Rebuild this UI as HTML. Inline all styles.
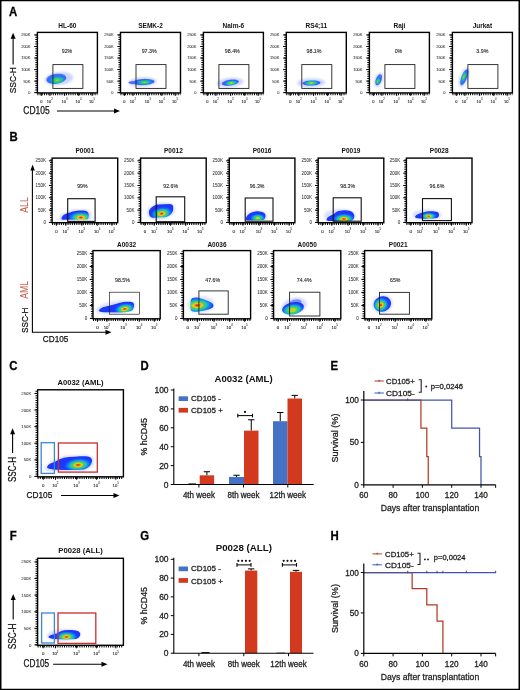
<!DOCTYPE html><html><head><meta charset="utf-8"><title>Figure</title><style>html,body{margin:0;padding:0;background:#fff;width:520px;height:690px;overflow:hidden;}text{font-family:"Liberation Sans", sans-serif;}</style></head><body><svg width="520" height="690" viewBox="0 0 520 690" style="display:block;font-family:'Liberation Sans', sans-serif"><defs><filter id="ident" filterUnits="userSpaceOnUse" x="0" y="0" width="520" height="690"><feOffset dx="0" dy="0"/></filter><filter id="bl" x="-30%" y="-30%" width="160%" height="160%"><feGaussianBlur stdDeviation="0.45"/></filter><filter id="bl2" x="-50%" y="-50%" width="200%" height="200%"><feGaussianBlur stdDeviation="1.2"/></filter><radialGradient id="u1" gradientUnits="userSpaceOnUse" cx="0" cy="0" r="1" gradientTransform="translate(57.4 80.2) rotate(-5) scale(10.5 5.5)"><stop offset="0.0" stop-color="#a8e028"/><stop offset="0.2" stop-color="#50d040"/><stop offset="0.42" stop-color="#20c0a0"/><stop offset="0.6" stop-color="#1a98e0"/><stop offset="0.8" stop-color="#2a68ff"/><stop offset="1.0" stop-color="#4a70ff"/></radialGradient><radialGradient id="u2" gradientUnits="userSpaceOnUse" cx="0" cy="0" r="1" gradientTransform="translate(144.5 82.3) rotate(-3) scale(10.0 3.2)"><stop offset="0.0" stop-color="#a8e028"/><stop offset="0.2" stop-color="#50d040"/><stop offset="0.42" stop-color="#20c0a0"/><stop offset="0.6" stop-color="#1a98e0"/><stop offset="0.8" stop-color="#2a68ff"/><stop offset="1.0" stop-color="#4a70ff"/></radialGradient><radialGradient id="u3" gradientUnits="userSpaceOnUse" cx="0" cy="0" r="1" gradientTransform="translate(231.2 83.0) rotate(-6) scale(8.0 3.0)"><stop offset="0.0" stop-color="#d8e020"/><stop offset="0.15" stop-color="#a0e020"/><stop offset="0.32" stop-color="#48d048"/><stop offset="0.52" stop-color="#18c0c0"/><stop offset="0.74" stop-color="#1a80f0"/><stop offset="0.9" stop-color="#2a60ff"/><stop offset="1.0" stop-color="#4068ff"/></radialGradient><radialGradient id="u4" gradientUnits="userSpaceOnUse" cx="0" cy="0" r="1" gradientTransform="translate(311.3 83.0) rotate(-2) scale(8.8 2.9)"><stop offset="0.0" stop-color="#d8e020"/><stop offset="0.15" stop-color="#a0e020"/><stop offset="0.32" stop-color="#48d048"/><stop offset="0.52" stop-color="#18c0c0"/><stop offset="0.74" stop-color="#1a80f0"/><stop offset="0.9" stop-color="#2a60ff"/><stop offset="1.0" stop-color="#4068ff"/></radialGradient><radialGradient id="u5" gradientUnits="userSpaceOnUse" cx="0" cy="0" r="1" gradientTransform="translate(377.9 81.2) rotate(-69) scale(5.2 3.0)"><stop offset="0.0" stop-color="#a8e028"/><stop offset="0.2" stop-color="#50d040"/><stop offset="0.42" stop-color="#20c0a0"/><stop offset="0.6" stop-color="#1a98e0"/><stop offset="0.8" stop-color="#2a68ff"/><stop offset="1.0" stop-color="#4a70ff"/></radialGradient><radialGradient id="u6" gradientUnits="userSpaceOnUse" cx="0" cy="0" r="1" gradientTransform="translate(463.8 76.8) rotate(-69) scale(8.0 3.0)"><stop offset="0.0" stop-color="#a8e028"/><stop offset="0.2" stop-color="#50d040"/><stop offset="0.42" stop-color="#20c0a0"/><stop offset="0.6" stop-color="#1a98e0"/><stop offset="0.8" stop-color="#2a68ff"/><stop offset="1.0" stop-color="#4a70ff"/></radialGradient><clipPath id="c7"><rect x="40" y="150" width="480" height="70.8"/></clipPath><radialGradient id="u8" gradientUnits="userSpaceOnUse" cx="0" cy="0" r="1" gradientTransform="translate(80.9 217.5) rotate(0) scale(13.0 6.2)"><stop offset="0.0" stop-color="#d81a10"/><stop offset="0.12" stop-color="#f06818"/><stop offset="0.24" stop-color="#f0d020"/><stop offset="0.38" stop-color="#60d040"/><stop offset="0.55" stop-color="#18c0c8"/><stop offset="0.74" stop-color="#1478f0"/><stop offset="0.9" stop-color="#1848ff"/><stop offset="1.0" stop-color="#1a38f8"/></radialGradient><radialGradient id="u9" gradientUnits="userSpaceOnUse" cx="0" cy="0" r="1" gradientTransform="translate(161.7 213.6) rotate(-10) scale(11.5 6.8)"><stop offset="0.0" stop-color="#d81a10"/><stop offset="0.12" stop-color="#f06818"/><stop offset="0.24" stop-color="#f0d020"/><stop offset="0.38" stop-color="#60d040"/><stop offset="0.55" stop-color="#18c0c8"/><stop offset="0.74" stop-color="#1478f0"/><stop offset="0.9" stop-color="#1848ff"/><stop offset="1.0" stop-color="#1a38f8"/></radialGradient><radialGradient id="u10" gradientUnits="userSpaceOnUse" cx="0" cy="0" r="1" gradientTransform="translate(257.8 218.0) rotate(0) scale(8.0 4.4)"><stop offset="0.0" stop-color="#e8e020"/><stop offset="0.15" stop-color="#b0e020"/><stop offset="0.32" stop-color="#48d048"/><stop offset="0.52" stop-color="#18c0c0"/><stop offset="0.74" stop-color="#1478f0"/><stop offset="0.9" stop-color="#1848ff"/><stop offset="1.0" stop-color="#1a38f8"/></radialGradient><radialGradient id="u11" gradientUnits="userSpaceOnUse" cx="0" cy="0" r="1" gradientTransform="translate(343.9 219.0) rotate(0) scale(11.5 5.8)"><stop offset="0.0" stop-color="#d81a10"/><stop offset="0.12" stop-color="#f06818"/><stop offset="0.24" stop-color="#f0d020"/><stop offset="0.38" stop-color="#60d040"/><stop offset="0.55" stop-color="#18c0c8"/><stop offset="0.74" stop-color="#1478f0"/><stop offset="0.9" stop-color="#1848ff"/><stop offset="1.0" stop-color="#1a38f8"/></radialGradient><radialGradient id="u12" gradientUnits="userSpaceOnUse" cx="0" cy="0" r="1" gradientTransform="translate(428.7 216.2) rotate(0) scale(8.5 4.0)"><stop offset="0.0" stop-color="#d81a10"/><stop offset="0.12" stop-color="#f06818"/><stop offset="0.24" stop-color="#f0d020"/><stop offset="0.38" stop-color="#60d040"/><stop offset="0.55" stop-color="#18c0c8"/><stop offset="0.74" stop-color="#1478f0"/><stop offset="0.9" stop-color="#1848ff"/><stop offset="1.0" stop-color="#1a38f8"/></radialGradient><radialGradient id="u13" gradientUnits="userSpaceOnUse" cx="0" cy="0" r="1" gradientTransform="translate(124.8 309.0) rotate(-10) scale(11.0 6.0)"><stop offset="0.0" stop-color="#d81a10"/><stop offset="0.12" stop-color="#f06818"/><stop offset="0.24" stop-color="#f0d020"/><stop offset="0.38" stop-color="#60d040"/><stop offset="0.55" stop-color="#18c0c8"/><stop offset="0.74" stop-color="#1478f0"/><stop offset="0.9" stop-color="#1848ff"/><stop offset="1.0" stop-color="#1a38f8"/></radialGradient><radialGradient id="u14" gradientUnits="userSpaceOnUse" cx="0" cy="0" r="1" gradientTransform="translate(197.5 305.3) rotate(-3) scale(17.0 8.5)"><stop offset="0.0" stop-color="#d81a10"/><stop offset="0.12" stop-color="#f06818"/><stop offset="0.24" stop-color="#f0d020"/><stop offset="0.38" stop-color="#60d040"/><stop offset="0.55" stop-color="#18c0c8"/><stop offset="0.74" stop-color="#1478f0"/><stop offset="0.9" stop-color="#1848ff"/><stop offset="1.0" stop-color="#1a38f8"/></radialGradient><radialGradient id="u15" gradientUnits="userSpaceOnUse" cx="0" cy="0" r="1" gradientTransform="translate(292.6 310.0) rotate(-10) scale(11.5 6.5)"><stop offset="0.0" stop-color="#f07820"/><stop offset="0.1" stop-color="#f0c020"/><stop offset="0.25" stop-color="#a0e020"/><stop offset="0.42" stop-color="#40d050"/><stop offset="0.6" stop-color="#18c0c8"/><stop offset="0.78" stop-color="#1478f0"/><stop offset="0.92" stop-color="#1848ff"/><stop offset="1.0" stop-color="#1a38f8"/></radialGradient><radialGradient id="u16" gradientUnits="userSpaceOnUse" cx="0" cy="0" r="1" gradientTransform="translate(380.7 305.0) rotate(-20) scale(9.0 8.0)"><stop offset="0.0" stop-color="#d81a10"/><stop offset="0.12" stop-color="#f06818"/><stop offset="0.24" stop-color="#f0d020"/><stop offset="0.38" stop-color="#60d040"/><stop offset="0.55" stop-color="#18c0c8"/><stop offset="0.74" stop-color="#1478f0"/><stop offset="0.9" stop-color="#1848ff"/><stop offset="1.0" stop-color="#1a38f8"/></radialGradient><radialGradient id="u17" gradientUnits="userSpaceOnUse" cx="0" cy="0" r="1" gradientTransform="translate(78.1 465.0) rotate(-5) scale(14.5 7.0)"><stop offset="0.0" stop-color="#d81a10"/><stop offset="0.12" stop-color="#f06818"/><stop offset="0.24" stop-color="#f0d020"/><stop offset="0.38" stop-color="#60d040"/><stop offset="0.55" stop-color="#18c0c8"/><stop offset="0.74" stop-color="#1478f0"/><stop offset="0.9" stop-color="#1848ff"/><stop offset="1.0" stop-color="#1a38f8"/></radialGradient><radialGradient id="u18" gradientUnits="userSpaceOnUse" cx="0" cy="0" r="1" gradientTransform="translate(66.5 636.9) rotate(0) scale(11.5 5.8)"><stop offset="0.0" stop-color="#d81a10"/><stop offset="0.12" stop-color="#f06818"/><stop offset="0.24" stop-color="#f0d020"/><stop offset="0.38" stop-color="#60d040"/><stop offset="0.55" stop-color="#18c0c8"/><stop offset="0.74" stop-color="#1478f0"/><stop offset="0.9" stop-color="#1848ff"/><stop offset="1.0" stop-color="#1a38f8"/></radialGradient></defs><g filter="url(#ident)"><g transform="translate(8.90 16.00) scale(0.92 1)"><text x="0" y="0" font-size="12.4" font-weight="bold" fill="#000" stroke="#000" stroke-width="0.3">A</text></g>
<g><path d="M72.92,77.14 L72.86,78.17 L72.45,79.21 L71.71,80.23 L70.66,81.22 L69.33,82.14 L67.73,82.97 L65.93,83.70 L63.95,84.30 L61.85,84.76 L59.68,85.06 L57.49,85.21 L55.34,85.20 L53.28,85.02 L51.37,84.69 L49.64,84.21 L48.14,83.58 L46.90,82.84 L45.97,81.99 L45.35,81.06 L45.08,80.06 L45.14,79.03 L45.55,77.99 L46.29,76.97 L47.34,75.98 L48.67,75.06 L50.27,74.23 L52.07,73.50 L54.05,72.90 L56.15,72.44 L58.32,72.14 L60.51,71.99 L62.66,72.00 L64.72,72.18 L66.63,72.51 L68.36,72.99 L69.86,73.62 L71.10,74.36 L72.03,75.21 L72.65,76.14 Z" fill="#7080ff" opacity="0.35" filter="url(#bl2)"/><path d="M66.20,77.41 L66.19,78.20 L65.93,79.01 L65.44,79.81 L64.72,80.58 L63.79,81.32 L62.68,81.99 L61.42,82.58 L60.02,83.08 L58.54,83.47 L57.00,83.75 L55.44,83.91 L53.90,83.94 L52.42,83.84 L51.04,83.62 L49.79,83.29 L48.70,82.84 L47.79,82.29 L47.10,81.65 L46.63,80.95 L46.40,80.19 L46.41,79.40 L46.67,78.59 L47.16,77.79 L47.88,77.02 L48.81,76.28 L49.92,75.61 L51.18,75.02 L52.58,74.52 L54.06,74.13 L55.60,73.85 L57.16,73.69 L58.70,73.66 L60.18,73.76 L61.56,73.98 L62.81,74.31 L63.90,74.76 L64.81,75.31 L65.50,75.95 L65.97,76.65 Z" fill="url(#u1)" filter="url(#bl)"/></g>
<g><path d="M156.48,81.27 L156.35,81.99 L155.87,82.72 L155.07,83.43 L153.95,84.11 L152.56,84.73 L150.91,85.29 L149.06,85.76 L147.05,86.14 L144.92,86.42 L142.74,86.59 L140.55,86.65 L138.41,86.60 L136.37,86.43 L134.48,86.15 L132.78,85.77 L131.33,85.29 L130.15,84.74 L129.28,84.12 L128.73,83.44 L128.52,82.73 L128.65,82.01 L129.13,81.28 L129.93,80.57 L131.05,79.89 L132.44,79.27 L134.09,78.71 L135.94,78.24 L137.95,77.86 L140.08,77.58 L142.26,77.41 L144.45,77.35 L146.59,77.40 L148.63,77.57 L150.52,77.85 L152.22,78.23 L153.67,78.71 L154.85,79.26 L155.72,79.88 L156.27,80.56 Z" fill="#7080ff" opacity="0.35" filter="url(#bl2)"/><path d="M137.50,82.60 L137.44,82.82 L137.28,83.03 L137.01,83.24 L136.64,83.42 L136.18,83.59 L135.65,83.73 L135.04,83.85 L134.39,83.93 L133.70,83.98 L133.00,84.00 L132.30,83.98 L131.61,83.93 L130.96,83.85 L130.35,83.73 L129.82,83.59 L129.36,83.42 L128.99,83.24 L128.72,83.03 L128.56,82.82 L128.50,82.60 L128.56,82.38 L128.72,82.17 L128.99,81.96 L129.36,81.78 L129.82,81.61 L130.35,81.47 L130.96,81.35 L131.61,81.27 L132.30,81.22 L133.00,81.20 L133.70,81.22 L134.39,81.27 L135.04,81.35 L135.65,81.47 L136.18,81.61 L136.64,81.78 L137.01,81.96 L137.28,82.17 L137.44,82.38 Z" fill="#3048ff" opacity="0.8" filter="url(#bl)"/><path d="M154.48,81.42 L154.38,81.92 L154.00,82.41 L153.36,82.89 L152.48,83.35 L151.38,83.78 L150.09,84.17 L148.63,84.50 L147.05,84.77 L145.38,84.97 L143.66,85.10 L141.94,85.15 L140.26,85.12 L138.66,85.02 L137.17,84.84 L135.85,84.60 L134.71,84.29 L133.79,83.92 L133.10,83.50 L132.68,83.05 L132.52,82.58 L132.62,82.08 L133.00,81.59 L133.64,81.11 L134.52,80.65 L135.62,80.22 L136.91,79.83 L138.37,79.50 L139.95,79.23 L141.62,79.03 L143.34,78.90 L145.06,78.85 L146.74,78.88 L148.34,78.98 L149.83,79.16 L151.15,79.40 L152.29,79.71 L153.21,80.08 L153.90,80.50 L154.32,80.95 Z" fill="url(#u2)" filter="url(#bl)"/></g>
<g><path d="M243.45,81.32 L243.34,82.04 L242.91,82.77 L242.16,83.49 L241.11,84.18 L239.79,84.84 L238.22,85.44 L236.46,85.96 L234.53,86.40 L232.49,86.74 L230.39,86.98 L228.28,87.11 L226.22,87.13 L224.24,87.03 L222.41,86.82 L220.77,86.50 L219.35,86.09 L218.20,85.58 L217.33,85.00 L216.78,84.36 L216.55,83.68 L216.66,82.96 L217.09,82.23 L217.84,81.51 L218.89,80.82 L220.21,80.16 L221.78,79.56 L223.54,79.04 L225.47,78.60 L227.51,78.26 L229.61,78.02 L231.72,77.89 L233.78,77.87 L235.76,77.97 L237.59,78.18 L239.23,78.50 L240.65,78.91 L241.80,79.42 L242.67,80.00 L243.22,80.64 Z" fill="#7080ff" opacity="0.35" filter="url(#bl2)"/><path d="M238.82,81.40 L238.77,81.87 L238.52,82.35 L238.07,82.84 L237.43,83.32 L236.61,83.78 L235.63,84.22 L234.53,84.62 L233.32,84.96 L232.03,85.25 L230.70,85.47 L229.37,85.62 L228.05,85.70 L226.79,85.70 L225.62,85.63 L224.56,85.48 L223.65,85.26 L222.90,84.97 L222.33,84.63 L221.95,84.23 L221.78,83.80 L221.83,83.33 L222.08,82.85 L222.53,82.36 L223.17,81.88 L223.99,81.42 L224.97,80.98 L226.07,80.58 L227.28,80.24 L228.57,79.95 L229.90,79.73 L231.23,79.58 L232.55,79.50 L233.81,79.50 L234.98,79.57 L236.04,79.72 L236.95,79.94 L237.70,80.23 L238.27,80.57 L238.65,80.97 Z" fill="url(#u3)" filter="url(#bl)"/></g>
<g><path d="M324.99,82.31 L324.84,83.01 L324.35,83.69 L323.54,84.36 L322.41,84.99 L321.00,85.56 L319.35,86.07 L317.49,86.50 L315.47,86.83 L313.34,87.07 L311.15,87.20 L308.96,87.22 L306.82,87.13 L304.78,86.94 L302.90,86.64 L301.22,86.25 L299.77,85.78 L298.60,85.23 L297.74,84.62 L297.20,83.97 L297.01,83.29 L297.16,82.59 L297.65,81.91 L298.46,81.24 L299.59,80.61 L301.00,80.04 L302.65,79.53 L304.51,79.10 L306.53,78.77 L308.66,78.53 L310.85,78.40 L313.04,78.38 L315.18,78.47 L317.22,78.66 L319.10,78.96 L320.78,79.35 L322.23,79.82 L323.40,80.37 L324.26,80.98 L324.80,81.63 Z" fill="#7080ff" opacity="0.35" filter="url(#bl2)"/><path d="M320.49,82.69 L320.40,83.10 L320.08,83.50 L319.56,83.90 L318.83,84.27 L317.92,84.62 L316.86,84.92 L315.66,85.17 L314.37,85.37 L313.00,85.52 L311.59,85.60 L310.18,85.62 L308.81,85.57 L307.50,85.46 L306.29,85.29 L305.20,85.06 L304.28,84.78 L303.53,84.46 L302.97,84.10 L302.63,83.72 L302.51,83.31 L302.60,82.90 L302.92,82.50 L303.44,82.10 L304.17,81.73 L305.08,81.38 L306.14,81.08 L307.34,80.83 L308.63,80.63 L310.00,80.48 L311.41,80.40 L312.82,80.38 L314.19,80.43 L315.50,80.54 L316.71,80.71 L317.80,80.94 L318.72,81.22 L319.47,81.54 L320.03,81.90 L320.37,82.28 Z" fill="url(#u4)" filter="url(#bl)"/></g>
<g><path d="M381.39,72.80 L381.94,73.11 L382.41,73.58 L382.79,74.21 L383.07,74.98 L383.24,75.86 L383.30,76.84 L383.25,77.90 L383.08,79.00 L382.81,80.12 L382.43,81.23 L381.97,82.31 L381.42,83.33 L380.81,84.26 L380.14,85.08 L379.44,85.76 L378.72,86.31 L378.00,86.69 L377.30,86.90 L376.63,86.94 L376.01,86.80 L375.46,86.49 L374.99,86.02 L374.61,85.39 L374.33,84.62 L374.16,83.74 L374.10,82.76 L374.15,81.70 L374.32,80.60 L374.59,79.48 L374.97,78.37 L375.43,77.29 L375.98,76.27 L376.59,75.34 L377.26,74.52 L377.96,73.84 L378.68,73.29 L379.40,72.91 L380.10,72.70 L380.77,72.66 Z" fill="#7080ff" opacity="0.35" filter="url(#bl2)"/><path d="M380.78,74.39 L381.16,74.61 L381.48,74.96 L381.74,75.43 L381.92,76.01 L382.02,76.68 L382.04,77.43 L381.97,78.24 L381.83,79.08 L381.61,79.94 L381.31,80.80 L380.96,81.64 L380.54,82.43 L380.09,83.15 L379.59,83.79 L379.08,84.34 L378.55,84.77 L378.03,85.08 L377.53,85.26 L377.06,85.31 L376.62,85.21 L376.24,84.99 L375.92,84.64 L375.66,84.17 L375.48,83.59 L375.38,82.92 L375.36,82.17 L375.43,81.36 L375.57,80.52 L375.79,79.66 L376.09,78.80 L376.44,77.96 L376.86,77.17 L377.31,76.45 L377.81,75.81 L378.32,75.26 L378.85,74.83 L379.37,74.52 L379.87,74.34 L380.34,74.29 Z" fill="url(#u5)" filter="url(#bl)"/></g>
<g><path d="M467.58,68.16 L468.12,68.50 L468.56,69.06 L468.89,69.83 L469.09,70.79 L469.17,71.91 L469.13,73.17 L468.95,74.54 L468.66,75.98 L468.25,77.46 L467.73,78.93 L467.13,80.38 L466.44,81.75 L465.70,83.02 L464.91,84.15 L464.11,85.12 L463.30,85.90 L462.50,86.47 L461.75,86.82 L461.04,86.95 L460.42,86.84 L459.88,86.50 L459.44,85.94 L459.11,85.17 L458.91,84.21 L458.83,83.09 L458.87,81.83 L459.05,80.46 L459.34,79.02 L459.75,77.54 L460.27,76.07 L460.87,74.62 L461.56,73.25 L462.30,71.98 L463.09,70.85 L463.89,69.88 L464.70,69.10 L465.50,68.53 L466.25,68.18 L466.96,68.05 Z" fill="#7080ff" opacity="0.35" filter="url(#bl2)"/><path d="M467.35,69.36 L467.72,69.62 L468.00,70.06 L468.20,70.69 L468.30,71.47 L468.30,72.40 L468.21,73.45 L468.01,74.59 L467.73,75.80 L467.36,77.05 L466.91,78.30 L466.41,79.53 L465.84,80.71 L465.25,81.80 L464.62,82.78 L463.99,83.62 L463.37,84.31 L462.77,84.83 L462.21,85.16 L461.70,85.29 L461.25,85.24 L460.88,84.98 L460.60,84.54 L460.40,83.91 L460.30,83.13 L460.30,82.20 L460.39,81.15 L460.59,80.01 L460.87,78.80 L461.24,77.55 L461.69,76.30 L462.19,75.07 L462.76,73.89 L463.35,72.80 L463.98,71.82 L464.61,70.98 L465.23,70.29 L465.83,69.77 L466.39,69.44 L466.90,69.31 Z" fill="url(#u6)" filter="url(#bl)"/></g>
<line x1="34.20" y1="92.66" x2="37.40" y2="92.66" stroke="#000" stroke-width="1.0" />
<text x="30.50" y="94.10" font-size="4.0" text-anchor="end" fill="#333" stroke="#333" stroke-width="0.05">0</text>
<line x1="34.20" y1="81.11" x2="37.40" y2="81.11" stroke="#000" stroke-width="1.0" />
<text x="30.50" y="82.55" font-size="4.0" text-anchor="end" fill="#333" stroke="#333" stroke-width="0.05">50K</text>
<line x1="34.20" y1="69.57" x2="37.40" y2="69.57" stroke="#000" stroke-width="1.0" />
<text x="30.50" y="71.01" font-size="4.0" text-anchor="end" fill="#333" stroke="#333" stroke-width="0.05">100K</text>
<line x1="34.20" y1="58.02" x2="37.40" y2="58.02" stroke="#000" stroke-width="1.0" />
<text x="30.50" y="59.46" font-size="4.0" text-anchor="end" fill="#333" stroke="#333" stroke-width="0.05">150K</text>
<line x1="34.20" y1="46.47" x2="37.40" y2="46.47" stroke="#000" stroke-width="1.0" />
<text x="30.50" y="47.91" font-size="4.0" text-anchor="end" fill="#333" stroke="#333" stroke-width="0.05">200K</text>
<line x1="34.20" y1="34.93" x2="37.40" y2="34.93" stroke="#000" stroke-width="1.0" />
<text x="30.50" y="36.37" font-size="4.0" text-anchor="end" fill="#333" stroke="#333" stroke-width="0.05">250K</text>
<line x1="36.30" y1="92.90" x2="36.30" y2="33.40" stroke="#000" stroke-width="2.0" stroke-dasharray="1.0 1.3"/>
<line x1="41.36" y1="92.90" x2="41.36" y2="95.90" stroke="#000" stroke-width="1.0" />
<text x="41.36" y="102.70" font-size="4.0" text-anchor="middle" fill="#222" stroke="#222" stroke-width="0.1">0</text>
<line x1="49.88" y1="92.90" x2="49.88" y2="95.90" stroke="#000" stroke-width="1.0" />
<text x="48.98" y="102.70" font-size="4.0" text-anchor="middle" fill="#222" stroke="#222" stroke-width="0.1">10</text>
<text x="51.28" y="100.10" font-size="2.8" text-anchor="start" fill="#000" >2</text>
<line x1="64.70" y1="92.90" x2="64.70" y2="95.90" stroke="#000" stroke-width="1.0" />
<text x="63.80" y="102.70" font-size="4.0" text-anchor="middle" fill="#222" stroke="#222" stroke-width="0.1">10</text>
<text x="66.10" y="100.10" font-size="2.8" text-anchor="start" fill="#000" >3</text>
<line x1="78.68" y1="92.90" x2="78.68" y2="95.90" stroke="#000" stroke-width="1.0" />
<text x="77.78" y="102.70" font-size="4.0" text-anchor="middle" fill="#222" stroke="#222" stroke-width="0.1">10</text>
<text x="80.08" y="100.10" font-size="2.8" text-anchor="start" fill="#000" >4</text>
<line x1="92.12" y1="92.90" x2="92.12" y2="95.90" stroke="#000" stroke-width="1.0" />
<text x="91.22" y="102.70" font-size="4.0" text-anchor="middle" fill="#222" stroke="#222" stroke-width="0.1">10</text>
<text x="93.52" y="100.10" font-size="2.8" text-anchor="start" fill="#000" >5</text>
<line x1="37.40" y1="94.10" x2="97.40" y2="94.10" stroke="#000" stroke-width="2.2" stroke-dasharray="1.0 1.2"/>
<rect x="37.40" y="32.40" width="60.00" height="60.50" fill="none" stroke="#000" stroke-width="1.4" />
<text x="67.40" y="27.90" font-size="6.5" text-anchor="middle" fill="#111" font-weight="bold" >HL-60</text>
<text x="67.00" y="53.40" font-size="5.3" text-anchor="middle" fill="#222" stroke="#222" stroke-width="0.1">92%</text>
<rect x="52.90" y="64.60" width="30.00" height="23.80" fill="none" stroke="#222" stroke-width="0.9" />
<line x1="117.30" y1="92.66" x2="120.50" y2="92.66" stroke="#000" stroke-width="1.0" />
<text x="113.60" y="94.10" font-size="4.0" text-anchor="end" fill="#333" stroke="#333" stroke-width="0.05">0</text>
<line x1="117.30" y1="81.11" x2="120.50" y2="81.11" stroke="#000" stroke-width="1.0" />
<text x="113.60" y="82.55" font-size="4.0" text-anchor="end" fill="#333" stroke="#333" stroke-width="0.05">50K</text>
<line x1="117.30" y1="69.57" x2="120.50" y2="69.57" stroke="#000" stroke-width="1.0" />
<text x="113.60" y="71.01" font-size="4.0" text-anchor="end" fill="#333" stroke="#333" stroke-width="0.05">100K</text>
<line x1="117.30" y1="58.02" x2="120.50" y2="58.02" stroke="#000" stroke-width="1.0" />
<text x="113.60" y="59.46" font-size="4.0" text-anchor="end" fill="#333" stroke="#333" stroke-width="0.05">150K</text>
<line x1="117.30" y1="46.47" x2="120.50" y2="46.47" stroke="#000" stroke-width="1.0" />
<text x="113.60" y="47.91" font-size="4.0" text-anchor="end" fill="#333" stroke="#333" stroke-width="0.05">200K</text>
<line x1="117.30" y1="34.93" x2="120.50" y2="34.93" stroke="#000" stroke-width="1.0" />
<text x="113.60" y="36.37" font-size="4.0" text-anchor="end" fill="#333" stroke="#333" stroke-width="0.05">250K</text>
<line x1="119.40" y1="92.90" x2="119.40" y2="33.40" stroke="#000" stroke-width="2.0" stroke-dasharray="1.0 1.3"/>
<line x1="124.46" y1="92.90" x2="124.46" y2="95.90" stroke="#000" stroke-width="1.0" />
<text x="124.46" y="102.70" font-size="4.0" text-anchor="middle" fill="#222" stroke="#222" stroke-width="0.1">0</text>
<line x1="132.98" y1="92.90" x2="132.98" y2="95.90" stroke="#000" stroke-width="1.0" />
<text x="132.08" y="102.70" font-size="4.0" text-anchor="middle" fill="#222" stroke="#222" stroke-width="0.1">10</text>
<text x="134.38" y="100.10" font-size="2.8" text-anchor="start" fill="#000" >2</text>
<line x1="147.80" y1="92.90" x2="147.80" y2="95.90" stroke="#000" stroke-width="1.0" />
<text x="146.90" y="102.70" font-size="4.0" text-anchor="middle" fill="#222" stroke="#222" stroke-width="0.1">10</text>
<text x="149.20" y="100.10" font-size="2.8" text-anchor="start" fill="#000" >3</text>
<line x1="161.78" y1="92.90" x2="161.78" y2="95.90" stroke="#000" stroke-width="1.0" />
<text x="160.88" y="102.70" font-size="4.0" text-anchor="middle" fill="#222" stroke="#222" stroke-width="0.1">10</text>
<text x="163.18" y="100.10" font-size="2.8" text-anchor="start" fill="#000" >4</text>
<line x1="175.22" y1="92.90" x2="175.22" y2="95.90" stroke="#000" stroke-width="1.0" />
<text x="174.32" y="102.70" font-size="4.0" text-anchor="middle" fill="#222" stroke="#222" stroke-width="0.1">10</text>
<text x="176.62" y="100.10" font-size="2.8" text-anchor="start" fill="#000" >5</text>
<line x1="120.50" y1="94.10" x2="180.50" y2="94.10" stroke="#000" stroke-width="2.2" stroke-dasharray="1.0 1.2"/>
<rect x="120.50" y="32.40" width="60.00" height="60.50" fill="none" stroke="#000" stroke-width="1.4" />
<text x="150.50" y="27.90" font-size="6.5" text-anchor="middle" fill="#111" font-weight="bold" >SEMK-2</text>
<text x="149.20" y="53.40" font-size="5.3" text-anchor="middle" fill="#222" stroke="#222" stroke-width="0.1">97.3%</text>
<rect x="136.00" y="64.60" width="30.00" height="23.80" fill="none" stroke="#222" stroke-width="0.9" />
<line x1="200.20" y1="92.66" x2="203.40" y2="92.66" stroke="#000" stroke-width="1.0" />
<text x="196.50" y="94.10" font-size="4.0" text-anchor="end" fill="#333" stroke="#333" stroke-width="0.05">0</text>
<line x1="200.20" y1="81.11" x2="203.40" y2="81.11" stroke="#000" stroke-width="1.0" />
<text x="196.50" y="82.55" font-size="4.0" text-anchor="end" fill="#333" stroke="#333" stroke-width="0.05">50K</text>
<line x1="200.20" y1="69.57" x2="203.40" y2="69.57" stroke="#000" stroke-width="1.0" />
<text x="196.50" y="71.01" font-size="4.0" text-anchor="end" fill="#333" stroke="#333" stroke-width="0.05">100K</text>
<line x1="200.20" y1="58.02" x2="203.40" y2="58.02" stroke="#000" stroke-width="1.0" />
<text x="196.50" y="59.46" font-size="4.0" text-anchor="end" fill="#333" stroke="#333" stroke-width="0.05">150K</text>
<line x1="200.20" y1="46.47" x2="203.40" y2="46.47" stroke="#000" stroke-width="1.0" />
<text x="196.50" y="47.91" font-size="4.0" text-anchor="end" fill="#333" stroke="#333" stroke-width="0.05">200K</text>
<line x1="200.20" y1="34.93" x2="203.40" y2="34.93" stroke="#000" stroke-width="1.0" />
<text x="196.50" y="36.37" font-size="4.0" text-anchor="end" fill="#333" stroke="#333" stroke-width="0.05">250K</text>
<line x1="202.30" y1="92.90" x2="202.30" y2="33.40" stroke="#000" stroke-width="2.0" stroke-dasharray="1.0 1.3"/>
<line x1="207.36" y1="92.90" x2="207.36" y2="95.90" stroke="#000" stroke-width="1.0" />
<text x="207.36" y="102.70" font-size="4.0" text-anchor="middle" fill="#222" stroke="#222" stroke-width="0.1">0</text>
<line x1="215.88" y1="92.90" x2="215.88" y2="95.90" stroke="#000" stroke-width="1.0" />
<text x="214.98" y="102.70" font-size="4.0" text-anchor="middle" fill="#222" stroke="#222" stroke-width="0.1">10</text>
<text x="217.28" y="100.10" font-size="2.8" text-anchor="start" fill="#000" >2</text>
<line x1="230.70" y1="92.90" x2="230.70" y2="95.90" stroke="#000" stroke-width="1.0" />
<text x="229.80" y="102.70" font-size="4.0" text-anchor="middle" fill="#222" stroke="#222" stroke-width="0.1">10</text>
<text x="232.10" y="100.10" font-size="2.8" text-anchor="start" fill="#000" >3</text>
<line x1="244.68" y1="92.90" x2="244.68" y2="95.90" stroke="#000" stroke-width="1.0" />
<text x="243.78" y="102.70" font-size="4.0" text-anchor="middle" fill="#222" stroke="#222" stroke-width="0.1">10</text>
<text x="246.08" y="100.10" font-size="2.8" text-anchor="start" fill="#000" >4</text>
<line x1="258.12" y1="92.90" x2="258.12" y2="95.90" stroke="#000" stroke-width="1.0" />
<text x="257.22" y="102.70" font-size="4.0" text-anchor="middle" fill="#222" stroke="#222" stroke-width="0.1">10</text>
<text x="259.52" y="100.10" font-size="2.8" text-anchor="start" fill="#000" >5</text>
<line x1="203.40" y1="94.10" x2="263.40" y2="94.10" stroke="#000" stroke-width="2.2" stroke-dasharray="1.0 1.2"/>
<rect x="203.40" y="32.40" width="60.00" height="60.50" fill="none" stroke="#000" stroke-width="1.4" />
<text x="233.40" y="27.90" font-size="6.5" text-anchor="middle" fill="#111" font-weight="bold" >Nalm-6</text>
<text x="232.30" y="53.40" font-size="5.3" text-anchor="middle" fill="#222" stroke="#222" stroke-width="0.1">98.4%</text>
<rect x="218.90" y="64.60" width="30.00" height="23.80" fill="none" stroke="#222" stroke-width="0.9" />
<line x1="283.10" y1="92.66" x2="286.30" y2="92.66" stroke="#000" stroke-width="1.0" />
<text x="279.40" y="94.10" font-size="4.0" text-anchor="end" fill="#333" stroke="#333" stroke-width="0.05">0</text>
<line x1="283.10" y1="81.11" x2="286.30" y2="81.11" stroke="#000" stroke-width="1.0" />
<text x="279.40" y="82.55" font-size="4.0" text-anchor="end" fill="#333" stroke="#333" stroke-width="0.05">50K</text>
<line x1="283.10" y1="69.57" x2="286.30" y2="69.57" stroke="#000" stroke-width="1.0" />
<text x="279.40" y="71.01" font-size="4.0" text-anchor="end" fill="#333" stroke="#333" stroke-width="0.05">100K</text>
<line x1="283.10" y1="58.02" x2="286.30" y2="58.02" stroke="#000" stroke-width="1.0" />
<text x="279.40" y="59.46" font-size="4.0" text-anchor="end" fill="#333" stroke="#333" stroke-width="0.05">150K</text>
<line x1="283.10" y1="46.47" x2="286.30" y2="46.47" stroke="#000" stroke-width="1.0" />
<text x="279.40" y="47.91" font-size="4.0" text-anchor="end" fill="#333" stroke="#333" stroke-width="0.05">200K</text>
<line x1="283.10" y1="34.93" x2="286.30" y2="34.93" stroke="#000" stroke-width="1.0" />
<text x="279.40" y="36.37" font-size="4.0" text-anchor="end" fill="#333" stroke="#333" stroke-width="0.05">250K</text>
<line x1="285.20" y1="92.90" x2="285.20" y2="33.40" stroke="#000" stroke-width="2.0" stroke-dasharray="1.0 1.3"/>
<line x1="290.26" y1="92.90" x2="290.26" y2="95.90" stroke="#000" stroke-width="1.0" />
<text x="290.26" y="102.70" font-size="4.0" text-anchor="middle" fill="#222" stroke="#222" stroke-width="0.1">0</text>
<line x1="298.78" y1="92.90" x2="298.78" y2="95.90" stroke="#000" stroke-width="1.0" />
<text x="297.88" y="102.70" font-size="4.0" text-anchor="middle" fill="#222" stroke="#222" stroke-width="0.1">10</text>
<text x="300.18" y="100.10" font-size="2.8" text-anchor="start" fill="#000" >2</text>
<line x1="313.60" y1="92.90" x2="313.60" y2="95.90" stroke="#000" stroke-width="1.0" />
<text x="312.70" y="102.70" font-size="4.0" text-anchor="middle" fill="#222" stroke="#222" stroke-width="0.1">10</text>
<text x="315.00" y="100.10" font-size="2.8" text-anchor="start" fill="#000" >3</text>
<line x1="327.58" y1="92.90" x2="327.58" y2="95.90" stroke="#000" stroke-width="1.0" />
<text x="326.68" y="102.70" font-size="4.0" text-anchor="middle" fill="#222" stroke="#222" stroke-width="0.1">10</text>
<text x="328.98" y="100.10" font-size="2.8" text-anchor="start" fill="#000" >4</text>
<line x1="341.02" y1="92.90" x2="341.02" y2="95.90" stroke="#000" stroke-width="1.0" />
<text x="340.12" y="102.70" font-size="4.0" text-anchor="middle" fill="#222" stroke="#222" stroke-width="0.1">10</text>
<text x="342.42" y="100.10" font-size="2.8" text-anchor="start" fill="#000" >5</text>
<line x1="286.30" y1="94.10" x2="346.30" y2="94.10" stroke="#000" stroke-width="2.2" stroke-dasharray="1.0 1.2"/>
<rect x="286.30" y="32.40" width="60.00" height="60.50" fill="none" stroke="#000" stroke-width="1.4" />
<text x="316.30" y="27.90" font-size="6.5" text-anchor="middle" fill="#111" font-weight="bold" >RS4;11</text>
<text x="314.00" y="53.40" font-size="5.3" text-anchor="middle" fill="#222" stroke="#222" stroke-width="0.1">98.1%</text>
<rect x="301.80" y="64.60" width="30.00" height="23.80" fill="none" stroke="#222" stroke-width="0.9" />
<line x1="366.20" y1="92.66" x2="369.40" y2="92.66" stroke="#000" stroke-width="1.0" />
<text x="362.50" y="94.10" font-size="4.0" text-anchor="end" fill="#333" stroke="#333" stroke-width="0.05">0</text>
<line x1="366.20" y1="81.11" x2="369.40" y2="81.11" stroke="#000" stroke-width="1.0" />
<text x="362.50" y="82.55" font-size="4.0" text-anchor="end" fill="#333" stroke="#333" stroke-width="0.05">50K</text>
<line x1="366.20" y1="69.57" x2="369.40" y2="69.57" stroke="#000" stroke-width="1.0" />
<text x="362.50" y="71.01" font-size="4.0" text-anchor="end" fill="#333" stroke="#333" stroke-width="0.05">100K</text>
<line x1="366.20" y1="58.02" x2="369.40" y2="58.02" stroke="#000" stroke-width="1.0" />
<text x="362.50" y="59.46" font-size="4.0" text-anchor="end" fill="#333" stroke="#333" stroke-width="0.05">150K</text>
<line x1="366.20" y1="46.47" x2="369.40" y2="46.47" stroke="#000" stroke-width="1.0" />
<text x="362.50" y="47.91" font-size="4.0" text-anchor="end" fill="#333" stroke="#333" stroke-width="0.05">200K</text>
<line x1="366.20" y1="34.93" x2="369.40" y2="34.93" stroke="#000" stroke-width="1.0" />
<text x="362.50" y="36.37" font-size="4.0" text-anchor="end" fill="#333" stroke="#333" stroke-width="0.05">250K</text>
<line x1="368.30" y1="92.90" x2="368.30" y2="33.40" stroke="#000" stroke-width="2.0" stroke-dasharray="1.0 1.3"/>
<line x1="373.36" y1="92.90" x2="373.36" y2="95.90" stroke="#000" stroke-width="1.0" />
<text x="373.36" y="102.70" font-size="4.0" text-anchor="middle" fill="#222" stroke="#222" stroke-width="0.1">0</text>
<line x1="381.88" y1="92.90" x2="381.88" y2="95.90" stroke="#000" stroke-width="1.0" />
<text x="380.98" y="102.70" font-size="4.0" text-anchor="middle" fill="#222" stroke="#222" stroke-width="0.1">10</text>
<text x="383.28" y="100.10" font-size="2.8" text-anchor="start" fill="#000" >2</text>
<line x1="396.70" y1="92.90" x2="396.70" y2="95.90" stroke="#000" stroke-width="1.0" />
<text x="395.80" y="102.70" font-size="4.0" text-anchor="middle" fill="#222" stroke="#222" stroke-width="0.1">10</text>
<text x="398.10" y="100.10" font-size="2.8" text-anchor="start" fill="#000" >3</text>
<line x1="410.68" y1="92.90" x2="410.68" y2="95.90" stroke="#000" stroke-width="1.0" />
<text x="409.78" y="102.70" font-size="4.0" text-anchor="middle" fill="#222" stroke="#222" stroke-width="0.1">10</text>
<text x="412.08" y="100.10" font-size="2.8" text-anchor="start" fill="#000" >4</text>
<line x1="424.12" y1="92.90" x2="424.12" y2="95.90" stroke="#000" stroke-width="1.0" />
<text x="423.22" y="102.70" font-size="4.0" text-anchor="middle" fill="#222" stroke="#222" stroke-width="0.1">10</text>
<text x="425.52" y="100.10" font-size="2.8" text-anchor="start" fill="#000" >5</text>
<line x1="369.40" y1="94.10" x2="429.40" y2="94.10" stroke="#000" stroke-width="2.2" stroke-dasharray="1.0 1.2"/>
<rect x="369.40" y="32.40" width="60.00" height="60.50" fill="none" stroke="#000" stroke-width="1.4" />
<text x="399.40" y="27.90" font-size="6.5" text-anchor="middle" fill="#111" font-weight="bold" >Raji</text>
<text x="398.50" y="53.40" font-size="5.3" text-anchor="middle" fill="#222" stroke="#222" stroke-width="0.1">0%</text>
<rect x="384.90" y="64.60" width="30.00" height="23.80" fill="none" stroke="#222" stroke-width="0.9" />
<line x1="449.20" y1="92.66" x2="452.40" y2="92.66" stroke="#000" stroke-width="1.0" />
<text x="445.50" y="94.10" font-size="4.0" text-anchor="end" fill="#333" stroke="#333" stroke-width="0.05">0</text>
<line x1="449.20" y1="81.11" x2="452.40" y2="81.11" stroke="#000" stroke-width="1.0" />
<text x="445.50" y="82.55" font-size="4.0" text-anchor="end" fill="#333" stroke="#333" stroke-width="0.05">50K</text>
<line x1="449.20" y1="69.57" x2="452.40" y2="69.57" stroke="#000" stroke-width="1.0" />
<text x="445.50" y="71.01" font-size="4.0" text-anchor="end" fill="#333" stroke="#333" stroke-width="0.05">100K</text>
<line x1="449.20" y1="58.02" x2="452.40" y2="58.02" stroke="#000" stroke-width="1.0" />
<text x="445.50" y="59.46" font-size="4.0" text-anchor="end" fill="#333" stroke="#333" stroke-width="0.05">150K</text>
<line x1="449.20" y1="46.47" x2="452.40" y2="46.47" stroke="#000" stroke-width="1.0" />
<text x="445.50" y="47.91" font-size="4.0" text-anchor="end" fill="#333" stroke="#333" stroke-width="0.05">200K</text>
<line x1="449.20" y1="34.93" x2="452.40" y2="34.93" stroke="#000" stroke-width="1.0" />
<text x="445.50" y="36.37" font-size="4.0" text-anchor="end" fill="#333" stroke="#333" stroke-width="0.05">250K</text>
<line x1="451.30" y1="92.90" x2="451.30" y2="33.40" stroke="#000" stroke-width="2.0" stroke-dasharray="1.0 1.3"/>
<line x1="456.36" y1="92.90" x2="456.36" y2="95.90" stroke="#000" stroke-width="1.0" />
<text x="456.36" y="102.70" font-size="4.0" text-anchor="middle" fill="#222" stroke="#222" stroke-width="0.1">0</text>
<line x1="464.88" y1="92.90" x2="464.88" y2="95.90" stroke="#000" stroke-width="1.0" />
<text x="463.98" y="102.70" font-size="4.0" text-anchor="middle" fill="#222" stroke="#222" stroke-width="0.1">10</text>
<text x="466.28" y="100.10" font-size="2.8" text-anchor="start" fill="#000" >2</text>
<line x1="479.70" y1="92.90" x2="479.70" y2="95.90" stroke="#000" stroke-width="1.0" />
<text x="478.80" y="102.70" font-size="4.0" text-anchor="middle" fill="#222" stroke="#222" stroke-width="0.1">10</text>
<text x="481.10" y="100.10" font-size="2.8" text-anchor="start" fill="#000" >3</text>
<line x1="493.68" y1="92.90" x2="493.68" y2="95.90" stroke="#000" stroke-width="1.0" />
<text x="492.78" y="102.70" font-size="4.0" text-anchor="middle" fill="#222" stroke="#222" stroke-width="0.1">10</text>
<text x="495.08" y="100.10" font-size="2.8" text-anchor="start" fill="#000" >4</text>
<line x1="507.12" y1="92.90" x2="507.12" y2="95.90" stroke="#000" stroke-width="1.0" />
<text x="506.22" y="102.70" font-size="4.0" text-anchor="middle" fill="#222" stroke="#222" stroke-width="0.1">10</text>
<text x="508.52" y="100.10" font-size="2.8" text-anchor="start" fill="#000" >5</text>
<line x1="452.40" y1="94.10" x2="512.40" y2="94.10" stroke="#000" stroke-width="2.2" stroke-dasharray="1.0 1.2"/>
<rect x="452.40" y="32.40" width="60.00" height="60.50" fill="none" stroke="#000" stroke-width="1.4" />
<text x="482.40" y="27.90" font-size="6.5" text-anchor="middle" fill="#111" font-weight="bold" >Jurkat</text>
<text x="482.40" y="53.40" font-size="5.3" text-anchor="middle" fill="#222" stroke="#222" stroke-width="0.1">3.9%</text>
<rect x="467.90" y="64.60" width="30.00" height="23.80" fill="none" stroke="#222" stroke-width="0.9" />
<line x1="13.10" y1="64.50" x2="13.10" y2="37.80" stroke="#000" stroke-width="1.1" />
<path d="M10.60,38.80 L13.10,32.80 L15.60,38.80 Z" fill="#000"/>
<text x="15.70" y="93.20" font-size="9.8" text-anchor="start" fill="#111" textLength="26" lengthAdjust="spacingAndGlyphs" transform="rotate(-90 15.70 93.20)" stroke="#111" stroke-width="0.25">SSC-H</text>
<text x="23.30" y="113.80" font-size="10.2" text-anchor="start" fill="#111" textLength="26.3" lengthAdjust="spacingAndGlyphs" stroke="#111" stroke-width="0.25">CD105</text>
<line x1="57.00" y1="111.00" x2="115.00" y2="111.00" stroke="#000" stroke-width="1.1" />
<path d="M114.00,108.50 L120.00,111.00 L114.00,113.50 Z" fill="#000"/>
<g transform="translate(9.40 141.00) scale(0.92 1)"><text x="0" y="0" font-size="12.4" font-weight="bold" fill="#000" stroke="#000" stroke-width="0.3">B</text></g>
<g><path d="M58,219 L62,214 L72,210 L86,209.5 L91,212 L91,220 L60,220.5 Z" fill="#7080ff" opacity="0.3" filter="url(#bl2)"/><path d="M61.5,218.5 C62,215 66,213.5 70,212.5 C75,210.5 82,210 86,211 C89.5,212 89.5,218 87.5,219.6 L64,219.8 C62,219.8 61.5,219.5 61.5,218.5 Z" fill="url(#u8)" filter="url(#bl)"/></g>
<g><path d="M175.18,207.99 L175.28,209.32 L175.04,210.70 L174.44,212.09 L173.51,213.45 L172.28,214.75 L170.77,215.95 L169.01,217.04 L167.06,217.98 L164.96,218.74 L162.77,219.31 L160.53,219.68 L158.30,219.84 L156.14,219.78 L154.09,219.50 L152.22,219.01 L150.56,218.33 L149.17,217.46 L148.06,216.44 L147.27,215.28 L146.82,214.01 L146.72,212.68 L146.96,211.30 L147.56,209.91 L148.49,208.55 L149.72,207.25 L151.23,206.05 L152.99,204.96 L154.94,204.02 L157.04,203.26 L159.23,202.69 L161.47,202.32 L163.70,202.16 L165.86,202.22 L167.91,202.50 L169.78,202.99 L171.44,203.67 L172.83,204.54 L173.94,205.56 L174.73,206.72 Z" fill="#7080ff" opacity="0.25" filter="url(#bl2)"/><path d="M149,213 C148.5,209 152,206.5 157,204.5 L170,204 C173,204.2 173.5,206 173.2,209 C173,213 170,216 165,217.3 L154,217.8 C150.5,217.8 149.2,216 149,213 Z" fill="url(#u9)" filter="url(#bl)"/></g>
<g><path d="M268.00,216.50 L267.85,217.52 L267.41,218.51 L266.69,219.45 L265.71,220.32 L264.49,221.10 L263.05,221.76 L261.45,222.29 L259.71,222.68 L257.88,222.92 L256.00,223.00 L254.12,222.92 L252.29,222.68 L250.55,222.29 L248.95,221.76 L247.51,221.10 L246.29,220.32 L245.31,219.45 L244.59,218.51 L244.15,217.52 L244.00,216.50 L244.15,215.48 L244.59,214.49 L245.31,213.55 L246.29,212.68 L247.51,211.90 L248.95,211.24 L250.55,210.71 L252.29,210.32 L254.12,210.08 L256.00,210.00 L257.88,210.08 L259.71,210.32 L261.45,210.71 L263.05,211.24 L264.49,211.90 L265.71,212.68 L266.69,213.55 L267.41,214.49 L267.85,215.48 Z" fill="#7080ff" opacity="0.2" filter="url(#bl2)"/><path d="M245.8,219 C246,215 250,212.5 255,211.4 C259,210.8 263.5,211.5 265.2,214 C266,216.5 265,219.5 263,220 L247.5,220.2 C246,220.2 245.8,219.8 245.8,219 Z" fill="url(#u10)" filter="url(#bl)"/></g>
<g><path d="M356.00,216.00 L355.80,217.10 L355.22,218.16 L354.26,219.18 L352.94,220.11 L351.31,220.95 L349.40,221.66 L347.26,222.24 L344.94,222.66 L342.50,222.91 L340.00,223.00 L337.50,222.91 L335.06,222.66 L332.74,222.24 L330.60,221.66 L328.69,220.95 L327.06,220.11 L325.74,219.18 L324.78,218.16 L324.20,217.10 L324.00,216.00 L324.20,214.90 L324.78,213.84 L325.74,212.82 L327.06,211.89 L328.69,211.05 L330.60,210.34 L332.74,209.76 L335.06,209.34 L337.50,209.09 L340.00,209.00 L342.50,209.09 L344.94,209.34 L347.26,209.76 L349.40,210.34 L351.31,211.05 L352.94,211.89 L354.26,212.82 L355.22,213.84 L355.80,214.90 Z" fill="#7080ff" opacity="0.25" filter="url(#bl2)"/><path d="M326.5,219.5 C327,217 330,215.5 334,214 C336,211 340,210.2 346,210.2 C351,210.3 354.2,212.5 354.3,216 C354.3,219 353,220.8 350,220.9 L329,220.9 C327,220.9 326.5,220.5 326.5,219.5 Z" fill="url(#u11)" filter="url(#bl)"/></g>
<g><path d="M441.50,215.00 L441.32,215.86 L440.79,216.70 L439.92,217.50 L438.73,218.23 L437.25,218.89 L435.52,219.45 L433.58,219.90 L431.48,220.23 L429.27,220.43 L427.00,220.50 L424.73,220.43 L422.52,220.23 L420.42,219.90 L418.48,219.45 L416.75,218.89 L415.27,218.23 L414.08,217.50 L413.21,216.70 L412.68,215.86 L412.50,215.00 L412.68,214.14 L413.21,213.30 L414.08,212.50 L415.27,211.77 L416.75,211.11 L418.48,210.55 L420.42,210.10 L422.52,209.77 L424.73,209.57 L427.00,209.50 L429.27,209.57 L431.48,209.77 L433.58,210.10 L435.52,210.55 L437.25,211.11 L438.73,211.77 L439.92,212.50 L440.79,213.30 L441.32,214.14 Z" fill="#7080ff" opacity="0.25" filter="url(#bl2)"/><path d="M415,216.5 C416,214.5 419,213.5 423,212.5 C427,211 434,211 437.5,212 C439.5,213 439.6,216.5 437.5,217.8 C434,218.8 425,218.8 420,218.5 C416.5,218.3 414.8,217.8 415,216.5 Z" fill="url(#u12)" filter="url(#bl)"/></g>
<line x1="48.90" y1="222.44" x2="52.10" y2="222.44" stroke="#000" stroke-width="1.0" />
<text x="45.90" y="224.06" font-size="4.5" text-anchor="end" fill="#333" stroke="#333" stroke-width="0.05">0</text>
<line x1="48.90" y1="210.11" x2="52.10" y2="210.11" stroke="#000" stroke-width="1.0" />
<text x="45.90" y="211.73" font-size="4.5" text-anchor="end" fill="#333" stroke="#333" stroke-width="0.05">50K</text>
<line x1="48.90" y1="197.79" x2="52.10" y2="197.79" stroke="#000" stroke-width="1.0" />
<text x="45.90" y="199.41" font-size="4.5" text-anchor="end" fill="#333" stroke="#333" stroke-width="0.05">100K</text>
<line x1="48.90" y1="185.46" x2="52.10" y2="185.46" stroke="#000" stroke-width="1.0" />
<text x="45.90" y="187.08" font-size="4.5" text-anchor="end" fill="#333" stroke="#333" stroke-width="0.05">150K</text>
<line x1="48.90" y1="173.13" x2="52.10" y2="173.13" stroke="#000" stroke-width="1.0" />
<text x="45.90" y="174.75" font-size="4.5" text-anchor="end" fill="#333" stroke="#333" stroke-width="0.05">200K</text>
<line x1="48.90" y1="160.80" x2="52.10" y2="160.80" stroke="#000" stroke-width="1.0" />
<text x="45.90" y="162.42" font-size="4.5" text-anchor="end" fill="#333" stroke="#333" stroke-width="0.05">250K</text>
<line x1="51.00" y1="222.70" x2="51.00" y2="159.10" stroke="#000" stroke-width="2.0" stroke-dasharray="1.0 1.3"/>
<line x1="56.43" y1="222.70" x2="56.43" y2="225.70" stroke="#000" stroke-width="1.0" />
<text x="56.43" y="232.50" font-size="4.4" text-anchor="middle" fill="#222" stroke="#222" stroke-width="0.1">0</text>
<line x1="65.74" y1="222.70" x2="65.74" y2="225.70" stroke="#000" stroke-width="1.0" />
<text x="64.84" y="232.50" font-size="4.4" text-anchor="middle" fill="#222" stroke="#222" stroke-width="0.1">10</text>
<text x="67.14" y="229.90" font-size="3.08" text-anchor="start" fill="#000" >2</text>
<line x1="81.95" y1="222.70" x2="81.95" y2="225.70" stroke="#000" stroke-width="1.0" />
<text x="81.05" y="232.50" font-size="4.4" text-anchor="middle" fill="#222" stroke="#222" stroke-width="0.1">10</text>
<text x="83.35" y="229.90" font-size="3.08" text-anchor="start" fill="#000" >3</text>
<line x1="97.23" y1="222.70" x2="97.23" y2="225.70" stroke="#000" stroke-width="1.0" />
<text x="96.33" y="232.50" font-size="4.4" text-anchor="middle" fill="#222" stroke="#222" stroke-width="0.1">10</text>
<text x="98.63" y="229.90" font-size="3.08" text-anchor="start" fill="#000" >4</text>
<line x1="111.93" y1="222.70" x2="111.93" y2="225.70" stroke="#000" stroke-width="1.0" />
<text x="111.03" y="232.50" font-size="4.4" text-anchor="middle" fill="#222" stroke="#222" stroke-width="0.1">10</text>
<text x="113.33" y="229.90" font-size="3.08" text-anchor="start" fill="#000" >5</text>
<line x1="52.10" y1="223.90" x2="117.70" y2="223.90" stroke="#000" stroke-width="2.2" stroke-dasharray="1.0 1.2"/>
<rect x="52.10" y="158.10" width="65.60" height="64.60" fill="none" stroke="#000" stroke-width="1.4" />
<text x="84.90" y="153.00" font-size="6.5" text-anchor="middle" fill="#111" font-weight="bold" >P0001</text>
<text x="82.40" y="187.90" font-size="5.2" text-anchor="middle" fill="#222" stroke="#222" stroke-width="0.1">99%</text>
<line x1="137.40" y1="222.44" x2="140.60" y2="222.44" stroke="#000" stroke-width="1.0" />
<text x="134.40" y="224.06" font-size="4.5" text-anchor="end" fill="#333" stroke="#333" stroke-width="0.05">0</text>
<line x1="137.40" y1="210.11" x2="140.60" y2="210.11" stroke="#000" stroke-width="1.0" />
<text x="134.40" y="211.73" font-size="4.5" text-anchor="end" fill="#333" stroke="#333" stroke-width="0.05">50K</text>
<line x1="137.40" y1="197.79" x2="140.60" y2="197.79" stroke="#000" stroke-width="1.0" />
<text x="134.40" y="199.41" font-size="4.5" text-anchor="end" fill="#333" stroke="#333" stroke-width="0.05">100K</text>
<line x1="137.40" y1="185.46" x2="140.60" y2="185.46" stroke="#000" stroke-width="1.0" />
<text x="134.40" y="187.08" font-size="4.5" text-anchor="end" fill="#333" stroke="#333" stroke-width="0.05">150K</text>
<line x1="137.40" y1="173.13" x2="140.60" y2="173.13" stroke="#000" stroke-width="1.0" />
<text x="134.40" y="174.75" font-size="4.5" text-anchor="end" fill="#333" stroke="#333" stroke-width="0.05">200K</text>
<line x1="137.40" y1="160.80" x2="140.60" y2="160.80" stroke="#000" stroke-width="1.0" />
<text x="134.40" y="162.42" font-size="4.5" text-anchor="end" fill="#333" stroke="#333" stroke-width="0.05">250K</text>
<line x1="139.50" y1="222.70" x2="139.50" y2="159.10" stroke="#000" stroke-width="2.0" stroke-dasharray="1.0 1.3"/>
<line x1="144.93" y1="222.70" x2="144.93" y2="225.70" stroke="#000" stroke-width="1.0" />
<text x="144.93" y="232.50" font-size="4.4" text-anchor="middle" fill="#222" stroke="#222" stroke-width="0.1">0</text>
<line x1="154.24" y1="222.70" x2="154.24" y2="225.70" stroke="#000" stroke-width="1.0" />
<text x="153.34" y="232.50" font-size="4.4" text-anchor="middle" fill="#222" stroke="#222" stroke-width="0.1">10</text>
<text x="155.64" y="229.90" font-size="3.08" text-anchor="start" fill="#000" >2</text>
<line x1="170.45" y1="222.70" x2="170.45" y2="225.70" stroke="#000" stroke-width="1.0" />
<text x="169.55" y="232.50" font-size="4.4" text-anchor="middle" fill="#222" stroke="#222" stroke-width="0.1">10</text>
<text x="171.85" y="229.90" font-size="3.08" text-anchor="start" fill="#000" >3</text>
<line x1="185.73" y1="222.70" x2="185.73" y2="225.70" stroke="#000" stroke-width="1.0" />
<text x="184.83" y="232.50" font-size="4.4" text-anchor="middle" fill="#222" stroke="#222" stroke-width="0.1">10</text>
<text x="187.13" y="229.90" font-size="3.08" text-anchor="start" fill="#000" >4</text>
<line x1="200.43" y1="222.70" x2="200.43" y2="225.70" stroke="#000" stroke-width="1.0" />
<text x="199.53" y="232.50" font-size="4.4" text-anchor="middle" fill="#222" stroke="#222" stroke-width="0.1">10</text>
<text x="201.83" y="229.90" font-size="3.08" text-anchor="start" fill="#000" >5</text>
<line x1="140.60" y1="223.90" x2="206.20" y2="223.90" stroke="#000" stroke-width="2.2" stroke-dasharray="1.0 1.2"/>
<rect x="140.60" y="158.10" width="65.60" height="64.60" fill="none" stroke="#000" stroke-width="1.4" />
<text x="173.40" y="153.00" font-size="6.5" text-anchor="middle" fill="#111" font-weight="bold" >P0012</text>
<text x="170.70" y="187.90" font-size="5.2" text-anchor="middle" fill="#222" stroke="#222" stroke-width="0.1">92.6%</text>
<line x1="226.10" y1="222.44" x2="229.30" y2="222.44" stroke="#000" stroke-width="1.0" />
<text x="223.10" y="224.06" font-size="4.5" text-anchor="end" fill="#333" stroke="#333" stroke-width="0.05">0</text>
<line x1="226.10" y1="210.11" x2="229.30" y2="210.11" stroke="#000" stroke-width="1.0" />
<text x="223.10" y="211.73" font-size="4.5" text-anchor="end" fill="#333" stroke="#333" stroke-width="0.05">50K</text>
<line x1="226.10" y1="197.79" x2="229.30" y2="197.79" stroke="#000" stroke-width="1.0" />
<text x="223.10" y="199.41" font-size="4.5" text-anchor="end" fill="#333" stroke="#333" stroke-width="0.05">100K</text>
<line x1="226.10" y1="185.46" x2="229.30" y2="185.46" stroke="#000" stroke-width="1.0" />
<text x="223.10" y="187.08" font-size="4.5" text-anchor="end" fill="#333" stroke="#333" stroke-width="0.05">150K</text>
<line x1="226.10" y1="173.13" x2="229.30" y2="173.13" stroke="#000" stroke-width="1.0" />
<text x="223.10" y="174.75" font-size="4.5" text-anchor="end" fill="#333" stroke="#333" stroke-width="0.05">200K</text>
<line x1="226.10" y1="160.80" x2="229.30" y2="160.80" stroke="#000" stroke-width="1.0" />
<text x="223.10" y="162.42" font-size="4.5" text-anchor="end" fill="#333" stroke="#333" stroke-width="0.05">250K</text>
<line x1="228.20" y1="222.70" x2="228.20" y2="159.10" stroke="#000" stroke-width="2.0" stroke-dasharray="1.0 1.3"/>
<line x1="233.63" y1="222.70" x2="233.63" y2="225.70" stroke="#000" stroke-width="1.0" />
<text x="233.63" y="232.50" font-size="4.4" text-anchor="middle" fill="#222" stroke="#222" stroke-width="0.1">0</text>
<line x1="242.94" y1="222.70" x2="242.94" y2="225.70" stroke="#000" stroke-width="1.0" />
<text x="242.04" y="232.50" font-size="4.4" text-anchor="middle" fill="#222" stroke="#222" stroke-width="0.1">10</text>
<text x="244.34" y="229.90" font-size="3.08" text-anchor="start" fill="#000" >2</text>
<line x1="259.15" y1="222.70" x2="259.15" y2="225.70" stroke="#000" stroke-width="1.0" />
<text x="258.25" y="232.50" font-size="4.4" text-anchor="middle" fill="#222" stroke="#222" stroke-width="0.1">10</text>
<text x="260.55" y="229.90" font-size="3.08" text-anchor="start" fill="#000" >3</text>
<line x1="274.43" y1="222.70" x2="274.43" y2="225.70" stroke="#000" stroke-width="1.0" />
<text x="273.53" y="232.50" font-size="4.4" text-anchor="middle" fill="#222" stroke="#222" stroke-width="0.1">10</text>
<text x="275.83" y="229.90" font-size="3.08" text-anchor="start" fill="#000" >4</text>
<line x1="289.13" y1="222.70" x2="289.13" y2="225.70" stroke="#000" stroke-width="1.0" />
<text x="288.23" y="232.50" font-size="4.4" text-anchor="middle" fill="#222" stroke="#222" stroke-width="0.1">10</text>
<text x="290.53" y="229.90" font-size="3.08" text-anchor="start" fill="#000" >5</text>
<line x1="229.30" y1="223.90" x2="294.90" y2="223.90" stroke="#000" stroke-width="2.2" stroke-dasharray="1.0 1.2"/>
<rect x="229.30" y="158.10" width="65.60" height="64.60" fill="none" stroke="#000" stroke-width="1.4" />
<text x="262.10" y="153.00" font-size="6.5" text-anchor="middle" fill="#111" font-weight="bold" >P0016</text>
<text x="257.10" y="187.90" font-size="5.2" text-anchor="middle" fill="#222" stroke="#222" stroke-width="0.1">96.3%</text>
<line x1="315.00" y1="222.44" x2="318.20" y2="222.44" stroke="#000" stroke-width="1.0" />
<text x="312.00" y="224.06" font-size="4.5" text-anchor="end" fill="#333" stroke="#333" stroke-width="0.05">0</text>
<line x1="315.00" y1="210.11" x2="318.20" y2="210.11" stroke="#000" stroke-width="1.0" />
<text x="312.00" y="211.73" font-size="4.5" text-anchor="end" fill="#333" stroke="#333" stroke-width="0.05">50K</text>
<line x1="315.00" y1="197.79" x2="318.20" y2="197.79" stroke="#000" stroke-width="1.0" />
<text x="312.00" y="199.41" font-size="4.5" text-anchor="end" fill="#333" stroke="#333" stroke-width="0.05">100K</text>
<line x1="315.00" y1="185.46" x2="318.20" y2="185.46" stroke="#000" stroke-width="1.0" />
<text x="312.00" y="187.08" font-size="4.5" text-anchor="end" fill="#333" stroke="#333" stroke-width="0.05">150K</text>
<line x1="315.00" y1="173.13" x2="318.20" y2="173.13" stroke="#000" stroke-width="1.0" />
<text x="312.00" y="174.75" font-size="4.5" text-anchor="end" fill="#333" stroke="#333" stroke-width="0.05">200K</text>
<line x1="315.00" y1="160.80" x2="318.20" y2="160.80" stroke="#000" stroke-width="1.0" />
<text x="312.00" y="162.42" font-size="4.5" text-anchor="end" fill="#333" stroke="#333" stroke-width="0.05">250K</text>
<line x1="317.10" y1="222.70" x2="317.10" y2="159.10" stroke="#000" stroke-width="2.0" stroke-dasharray="1.0 1.3"/>
<line x1="322.53" y1="222.70" x2="322.53" y2="225.70" stroke="#000" stroke-width="1.0" />
<text x="322.53" y="232.50" font-size="4.4" text-anchor="middle" fill="#222" stroke="#222" stroke-width="0.1">0</text>
<line x1="331.84" y1="222.70" x2="331.84" y2="225.70" stroke="#000" stroke-width="1.0" />
<text x="330.94" y="232.50" font-size="4.4" text-anchor="middle" fill="#222" stroke="#222" stroke-width="0.1">10</text>
<text x="333.24" y="229.90" font-size="3.08" text-anchor="start" fill="#000" >2</text>
<line x1="348.05" y1="222.70" x2="348.05" y2="225.70" stroke="#000" stroke-width="1.0" />
<text x="347.15" y="232.50" font-size="4.4" text-anchor="middle" fill="#222" stroke="#222" stroke-width="0.1">10</text>
<text x="349.45" y="229.90" font-size="3.08" text-anchor="start" fill="#000" >3</text>
<line x1="363.33" y1="222.70" x2="363.33" y2="225.70" stroke="#000" stroke-width="1.0" />
<text x="362.43" y="232.50" font-size="4.4" text-anchor="middle" fill="#222" stroke="#222" stroke-width="0.1">10</text>
<text x="364.73" y="229.90" font-size="3.08" text-anchor="start" fill="#000" >4</text>
<line x1="378.03" y1="222.70" x2="378.03" y2="225.70" stroke="#000" stroke-width="1.0" />
<text x="377.13" y="232.50" font-size="4.4" text-anchor="middle" fill="#222" stroke="#222" stroke-width="0.1">10</text>
<text x="379.43" y="229.90" font-size="3.08" text-anchor="start" fill="#000" >5</text>
<line x1="318.20" y1="223.90" x2="383.80" y2="223.90" stroke="#000" stroke-width="2.2" stroke-dasharray="1.0 1.2"/>
<rect x="318.20" y="158.10" width="65.60" height="64.60" fill="none" stroke="#000" stroke-width="1.4" />
<text x="351.00" y="153.00" font-size="6.5" text-anchor="middle" fill="#111" font-weight="bold" >P0019</text>
<text x="347.70" y="187.90" font-size="5.2" text-anchor="middle" fill="#222" stroke="#222" stroke-width="0.1">98.3%</text>
<line x1="403.20" y1="222.44" x2="406.40" y2="222.44" stroke="#000" stroke-width="1.0" />
<text x="400.20" y="224.06" font-size="4.5" text-anchor="end" fill="#333" stroke="#333" stroke-width="0.05">0</text>
<line x1="403.20" y1="210.11" x2="406.40" y2="210.11" stroke="#000" stroke-width="1.0" />
<text x="400.20" y="211.73" font-size="4.5" text-anchor="end" fill="#333" stroke="#333" stroke-width="0.05">50K</text>
<line x1="403.20" y1="197.79" x2="406.40" y2="197.79" stroke="#000" stroke-width="1.0" />
<text x="400.20" y="199.41" font-size="4.5" text-anchor="end" fill="#333" stroke="#333" stroke-width="0.05">100K</text>
<line x1="403.20" y1="185.46" x2="406.40" y2="185.46" stroke="#000" stroke-width="1.0" />
<text x="400.20" y="187.08" font-size="4.5" text-anchor="end" fill="#333" stroke="#333" stroke-width="0.05">150K</text>
<line x1="403.20" y1="173.13" x2="406.40" y2="173.13" stroke="#000" stroke-width="1.0" />
<text x="400.20" y="174.75" font-size="4.5" text-anchor="end" fill="#333" stroke="#333" stroke-width="0.05">200K</text>
<line x1="403.20" y1="160.80" x2="406.40" y2="160.80" stroke="#000" stroke-width="1.0" />
<text x="400.20" y="162.42" font-size="4.5" text-anchor="end" fill="#333" stroke="#333" stroke-width="0.05">250K</text>
<line x1="405.30" y1="222.70" x2="405.30" y2="159.10" stroke="#000" stroke-width="2.0" stroke-dasharray="1.0 1.3"/>
<line x1="410.73" y1="222.70" x2="410.73" y2="225.70" stroke="#000" stroke-width="1.0" />
<text x="410.73" y="232.50" font-size="4.4" text-anchor="middle" fill="#222" stroke="#222" stroke-width="0.1">0</text>
<line x1="420.04" y1="222.70" x2="420.04" y2="225.70" stroke="#000" stroke-width="1.0" />
<text x="419.14" y="232.50" font-size="4.4" text-anchor="middle" fill="#222" stroke="#222" stroke-width="0.1">10</text>
<text x="421.44" y="229.90" font-size="3.08" text-anchor="start" fill="#000" >2</text>
<line x1="436.25" y1="222.70" x2="436.25" y2="225.70" stroke="#000" stroke-width="1.0" />
<text x="435.35" y="232.50" font-size="4.4" text-anchor="middle" fill="#222" stroke="#222" stroke-width="0.1">10</text>
<text x="437.65" y="229.90" font-size="3.08" text-anchor="start" fill="#000" >3</text>
<line x1="451.53" y1="222.70" x2="451.53" y2="225.70" stroke="#000" stroke-width="1.0" />
<text x="450.63" y="232.50" font-size="4.4" text-anchor="middle" fill="#222" stroke="#222" stroke-width="0.1">10</text>
<text x="452.93" y="229.90" font-size="3.08" text-anchor="start" fill="#000" >4</text>
<line x1="466.23" y1="222.70" x2="466.23" y2="225.70" stroke="#000" stroke-width="1.0" />
<text x="465.33" y="232.50" font-size="4.4" text-anchor="middle" fill="#222" stroke="#222" stroke-width="0.1">10</text>
<text x="467.63" y="229.90" font-size="3.08" text-anchor="start" fill="#000" >5</text>
<line x1="406.40" y1="223.90" x2="472.00" y2="223.90" stroke="#000" stroke-width="2.2" stroke-dasharray="1.0 1.2"/>
<rect x="406.40" y="158.10" width="65.60" height="64.60" fill="none" stroke="#000" stroke-width="1.4" />
<text x="439.20" y="153.00" font-size="6.5" text-anchor="middle" fill="#111" font-weight="bold" >P0028</text>
<text x="436.90" y="187.90" font-size="5.2" text-anchor="middle" fill="#222" stroke="#222" stroke-width="0.1">96.6%</text>
<rect x="67.70" y="198.70" width="27.40" height="22.70" fill="none" stroke="#111" stroke-width="1.1" />
<rect x="156.20" y="196.80" width="28.50" height="24.90" fill="none" stroke="#111" stroke-width="1.1" />
<rect x="245.20" y="198.00" width="27.80" height="23.20" fill="none" stroke="#111" stroke-width="1.1" />
<rect x="333.20" y="197.80" width="28.00" height="23.40" fill="none" stroke="#111" stroke-width="1.1" />
<rect x="422.50" y="198.60" width="28.90" height="22.00" fill="none" stroke="#111" stroke-width="1.1" />
<g><path d="M135.81,304.72 L135.70,305.76 L135.12,306.84 L134.06,307.94 L132.55,309.03 L130.64,310.08 L128.37,311.07 L125.80,311.97 L122.98,312.76 L119.99,313.42 L116.90,313.94 L113.80,314.29 L110.74,314.48 L107.81,314.50 L105.09,314.34 L102.64,314.02 L100.51,313.54 L98.76,312.90 L97.44,312.14 L96.58,311.26 L96.19,310.28 L96.30,309.24 L96.88,308.16 L97.94,307.06 L99.45,305.97 L101.36,304.92 L103.63,303.93 L106.20,303.03 L109.02,302.24 L112.01,301.58 L115.10,301.06 L118.20,300.71 L121.26,300.52 L124.19,300.50 L126.91,300.66 L129.36,300.98 L131.49,301.46 L133.24,302.10 L134.56,302.86 L135.42,303.74 Z" fill="#7080ff" opacity="0.25" filter="url(#bl2)"/><path d="M99,310.5 C100,308 104,306.8 108,306 C112,305 116,304.2 119,303 C123,301.8 129,301.5 132.5,302.2 C134.5,303 134.5,307 133,309.5 C131,311.8 127,312.4 121,312.4 L104,312.2 C100.5,312 98.8,311.5 99,310.5 Z" fill="url(#u13)" filter="url(#bl)"/></g>
<g><path d="M214.45,303.32 L214.40,304.66 L214.02,306.00 L213.32,307.30 L212.32,308.53 L211.03,309.66 L209.50,310.66 L207.77,311.51 L205.86,312.19 L203.84,312.68 L201.74,312.97 L199.63,313.05 L197.55,312.92 L195.55,312.58 L193.69,312.04 L192.01,311.32 L190.56,310.43 L189.35,309.39 L188.44,308.24 L187.83,306.99 L187.55,305.68 L187.60,304.34 L187.98,303.00 L188.68,301.70 L189.68,300.47 L190.97,299.34 L192.50,298.34 L194.23,297.49 L196.14,296.81 L198.16,296.32 L200.26,296.03 L202.37,295.95 L204.45,296.08 L206.45,296.42 L208.31,296.96 L209.99,297.68 L211.44,298.57 L212.65,299.61 L213.56,300.76 L214.17,302.01 Z" fill="#7080ff" opacity="0.2" filter="url(#bl2)"/><path d="M190.8,300 C191.5,298 194,297.3 197,297.6 C202,298.5 208,301 212,303 C214,304.3 214,306.8 212,308 C208,310 201,311.5 195,311.8 C192,311.9 190.5,310.5 190.4,308.5 C190.3,305.5 190.3,302 190.8,300 Z" fill="url(#u14)" filter="url(#bl)"/></g>
<g><path d="M306.56,302.64 L306.73,303.89 L306.58,305.19 L306.13,306.51 L305.38,307.82 L304.34,309.08 L303.06,310.27 L301.55,311.36 L299.85,312.31 L298.01,313.11 L296.07,313.73 L294.08,314.16 L292.09,314.39 L290.14,314.41 L288.29,314.23 L286.58,313.84 L285.06,313.26 L283.75,312.51 L282.70,311.59 L281.92,310.53 L281.44,309.36 L281.27,308.11 L281.42,306.81 L281.87,305.49 L282.62,304.18 L283.66,302.92 L284.94,301.73 L286.45,300.64 L288.15,299.69 L289.99,298.89 L291.93,298.27 L293.92,297.84 L295.91,297.61 L297.86,297.59 L299.71,297.77 L301.42,298.16 L302.94,298.74 L304.25,299.49 L305.30,300.41 L306.08,301.47 Z" fill="#7080ff" opacity="0.3" filter="url(#bl2)"/><path d="M301.41,301.46 L301.42,301.93 L301.28,302.42 L301.00,302.91 L300.59,303.39 L300.05,303.85 L299.39,304.28 L298.65,304.66 L297.82,304.99 L296.94,305.26 L296.02,305.45 L295.09,305.58 L294.17,305.63 L293.28,305.61 L292.45,305.50 L291.69,305.33 L291.03,305.08 L290.47,304.77 L290.04,304.40 L289.75,303.99 L289.59,303.54 L289.58,303.07 L289.72,302.58 L290.00,302.09 L290.41,301.61 L290.95,301.15 L291.61,300.72 L292.35,300.34 L293.18,300.01 L294.06,299.74 L294.98,299.55 L295.91,299.42 L296.83,299.37 L297.72,299.39 L298.55,299.50 L299.31,299.67 L299.97,299.92 L300.53,300.23 L300.96,300.60 L301.25,301.01 Z" fill="#2850ff" opacity="0.55" filter="url(#bl)"/><path d="M303.76,306.01 L303.82,306.96 L303.62,307.94 L303.15,308.93 L302.44,309.90 L301.49,310.83 L300.33,311.70 L299.00,312.49 L297.51,313.17 L295.92,313.74 L294.25,314.17 L292.55,314.45 L290.86,314.59 L289.23,314.57 L287.68,314.39 L286.27,314.07 L285.03,313.60 L283.98,313.00 L283.15,312.29 L282.57,311.48 L282.24,310.59 L282.18,309.64 L282.38,308.66 L282.85,307.67 L283.56,306.70 L284.51,305.77 L285.67,304.90 L287.00,304.11 L288.49,303.43 L290.08,302.86 L291.75,302.43 L293.45,302.15 L295.14,302.01 L296.77,302.03 L298.32,302.21 L299.73,302.53 L300.97,303.00 L302.02,303.60 L302.85,304.31 L303.43,305.12 Z" fill="url(#u15)" filter="url(#bl)"/></g>
<g><path d="M392.17,300.41 L392.53,301.78 L392.64,303.20 L392.49,304.64 L392.09,306.07 L391.45,307.44 L390.59,308.73 L389.52,309.91 L388.28,310.93 L386.88,311.79 L385.38,312.46 L383.80,312.91 L382.18,313.15 L380.56,313.17 L378.99,312.95 L377.50,312.52 L376.13,311.88 L374.91,311.04 L373.87,310.03 L373.04,308.87 L372.43,307.59 L372.07,306.22 L371.96,304.80 L372.11,303.36 L372.51,301.93 L373.15,300.56 L374.01,299.27 L375.08,298.09 L376.32,297.07 L377.72,296.21 L379.22,295.54 L380.80,295.09 L382.42,294.85 L384.04,294.83 L385.61,295.05 L387.10,295.48 L388.47,296.12 L389.69,296.96 L390.73,297.97 L391.56,299.13 Z" fill="#7080ff" opacity="0.25" filter="url(#bl2)"/><path d="M390.57,300.99 L390.87,302.14 L390.97,303.34 L390.85,304.56 L390.52,305.76 L389.99,306.92 L389.26,308.01 L388.37,309.00 L387.33,309.86 L386.16,310.58 L384.90,311.14 L383.57,311.52 L382.22,311.72 L380.86,311.73 L379.54,311.55 L378.29,311.18 L377.14,310.63 L376.11,309.92 L375.24,309.07 L374.54,308.09 L374.03,307.01 L373.73,305.86 L373.63,304.66 L373.75,303.44 L374.08,302.24 L374.61,301.08 L375.34,299.99 L376.23,299.00 L377.27,298.14 L378.44,297.42 L379.70,296.86 L381.03,296.48 L382.38,296.28 L383.74,296.27 L385.06,296.45 L386.31,296.82 L387.46,297.37 L388.49,298.08 L389.36,298.93 L390.06,299.91 Z" fill="url(#u16)" filter="url(#bl)"/></g>
<line x1="89.80" y1="318.53" x2="93.00" y2="318.53" stroke="#000" stroke-width="1.0" />
<text x="87.20" y="320.15" font-size="4.5" text-anchor="end" fill="#333" stroke="#333" stroke-width="0.05">0</text>
<line x1="89.80" y1="305.51" x2="93.00" y2="305.51" stroke="#000" stroke-width="1.0" />
<text x="87.20" y="307.13" font-size="4.5" text-anchor="end" fill="#333" stroke="#333" stroke-width="0.05">50K</text>
<line x1="89.80" y1="292.50" x2="93.00" y2="292.50" stroke="#000" stroke-width="1.0" />
<text x="87.20" y="294.12" font-size="4.5" text-anchor="end" fill="#333" stroke="#333" stroke-width="0.05">100K</text>
<line x1="89.80" y1="279.48" x2="93.00" y2="279.48" stroke="#000" stroke-width="1.0" />
<text x="87.20" y="281.10" font-size="4.5" text-anchor="end" fill="#333" stroke="#333" stroke-width="0.05">150K</text>
<line x1="89.80" y1="266.47" x2="93.00" y2="266.47" stroke="#000" stroke-width="1.0" />
<text x="87.20" y="268.09" font-size="4.5" text-anchor="end" fill="#333" stroke="#333" stroke-width="0.05">200K</text>
<line x1="89.80" y1="253.45" x2="93.00" y2="253.45" stroke="#000" stroke-width="1.0" />
<text x="87.20" y="255.07" font-size="4.5" text-anchor="end" fill="#333" stroke="#333" stroke-width="0.05">250K</text>
<line x1="91.90" y1="318.80" x2="91.90" y2="251.60" stroke="#000" stroke-width="2.0" stroke-dasharray="1.0 1.3"/>
<line x1="97.44" y1="318.80" x2="97.44" y2="321.80" stroke="#000" stroke-width="1.0" />
<text x="97.44" y="328.60" font-size="4.4" text-anchor="middle" fill="#222" stroke="#222" stroke-width="0.1">0</text>
<line x1="106.98" y1="318.80" x2="106.98" y2="321.80" stroke="#000" stroke-width="1.0" />
<text x="106.08" y="328.60" font-size="4.4" text-anchor="middle" fill="#222" stroke="#222" stroke-width="0.1">10</text>
<text x="108.38" y="326.00" font-size="3.08" text-anchor="start" fill="#000" >2</text>
<line x1="123.58" y1="318.80" x2="123.58" y2="321.80" stroke="#000" stroke-width="1.0" />
<text x="122.68" y="328.60" font-size="4.4" text-anchor="middle" fill="#222" stroke="#222" stroke-width="0.1">10</text>
<text x="124.98" y="326.00" font-size="3.08" text-anchor="start" fill="#000" >3</text>
<line x1="139.23" y1="318.80" x2="139.23" y2="321.80" stroke="#000" stroke-width="1.0" />
<text x="138.33" y="328.60" font-size="4.4" text-anchor="middle" fill="#222" stroke="#222" stroke-width="0.1">10</text>
<text x="140.63" y="326.00" font-size="3.08" text-anchor="start" fill="#000" >4</text>
<line x1="154.29" y1="318.80" x2="154.29" y2="321.80" stroke="#000" stroke-width="1.0" />
<text x="153.39" y="328.60" font-size="4.4" text-anchor="middle" fill="#222" stroke="#222" stroke-width="0.1">10</text>
<text x="155.69" y="326.00" font-size="3.08" text-anchor="start" fill="#000" >5</text>
<line x1="93.00" y1="320.00" x2="160.20" y2="320.00" stroke="#000" stroke-width="2.2" stroke-dasharray="1.0 1.2"/>
<rect x="93.00" y="250.60" width="67.20" height="68.20" fill="none" stroke="#000" stroke-width="1.4" />
<text x="126.60" y="246.80" font-size="6.5" text-anchor="middle" fill="#111" font-weight="bold" >A0032</text>
<text x="122.40" y="282.20" font-size="5.2" text-anchor="middle" fill="#222" stroke="#222" stroke-width="0.1">98.5%</text>
<line x1="180.20" y1="318.53" x2="183.40" y2="318.53" stroke="#000" stroke-width="1.0" />
<text x="177.60" y="320.15" font-size="4.5" text-anchor="end" fill="#333" stroke="#333" stroke-width="0.05">0</text>
<line x1="180.20" y1="305.51" x2="183.40" y2="305.51" stroke="#000" stroke-width="1.0" />
<text x="177.60" y="307.13" font-size="4.5" text-anchor="end" fill="#333" stroke="#333" stroke-width="0.05">50K</text>
<line x1="180.20" y1="292.50" x2="183.40" y2="292.50" stroke="#000" stroke-width="1.0" />
<text x="177.60" y="294.12" font-size="4.5" text-anchor="end" fill="#333" stroke="#333" stroke-width="0.05">100K</text>
<line x1="180.20" y1="279.48" x2="183.40" y2="279.48" stroke="#000" stroke-width="1.0" />
<text x="177.60" y="281.10" font-size="4.5" text-anchor="end" fill="#333" stroke="#333" stroke-width="0.05">150K</text>
<line x1="180.20" y1="266.47" x2="183.40" y2="266.47" stroke="#000" stroke-width="1.0" />
<text x="177.60" y="268.09" font-size="4.5" text-anchor="end" fill="#333" stroke="#333" stroke-width="0.05">200K</text>
<line x1="180.20" y1="253.45" x2="183.40" y2="253.45" stroke="#000" stroke-width="1.0" />
<text x="177.60" y="255.07" font-size="4.5" text-anchor="end" fill="#333" stroke="#333" stroke-width="0.05">250K</text>
<line x1="182.30" y1="318.80" x2="182.30" y2="251.60" stroke="#000" stroke-width="2.0" stroke-dasharray="1.0 1.3"/>
<line x1="187.84" y1="318.80" x2="187.84" y2="321.80" stroke="#000" stroke-width="1.0" />
<text x="187.84" y="328.60" font-size="4.4" text-anchor="middle" fill="#222" stroke="#222" stroke-width="0.1">0</text>
<line x1="197.38" y1="318.80" x2="197.38" y2="321.80" stroke="#000" stroke-width="1.0" />
<text x="196.48" y="328.60" font-size="4.4" text-anchor="middle" fill="#222" stroke="#222" stroke-width="0.1">10</text>
<text x="198.78" y="326.00" font-size="3.08" text-anchor="start" fill="#000" >2</text>
<line x1="213.98" y1="318.80" x2="213.98" y2="321.80" stroke="#000" stroke-width="1.0" />
<text x="213.08" y="328.60" font-size="4.4" text-anchor="middle" fill="#222" stroke="#222" stroke-width="0.1">10</text>
<text x="215.38" y="326.00" font-size="3.08" text-anchor="start" fill="#000" >3</text>
<line x1="229.63" y1="318.80" x2="229.63" y2="321.80" stroke="#000" stroke-width="1.0" />
<text x="228.73" y="328.60" font-size="4.4" text-anchor="middle" fill="#222" stroke="#222" stroke-width="0.1">10</text>
<text x="231.03" y="326.00" font-size="3.08" text-anchor="start" fill="#000" >4</text>
<line x1="244.69" y1="318.80" x2="244.69" y2="321.80" stroke="#000" stroke-width="1.0" />
<text x="243.79" y="328.60" font-size="4.4" text-anchor="middle" fill="#222" stroke="#222" stroke-width="0.1">10</text>
<text x="246.09" y="326.00" font-size="3.08" text-anchor="start" fill="#000" >5</text>
<line x1="183.40" y1="320.00" x2="250.60" y2="320.00" stroke="#000" stroke-width="2.2" stroke-dasharray="1.0 1.2"/>
<rect x="183.40" y="250.60" width="67.20" height="68.20" fill="none" stroke="#000" stroke-width="1.4" />
<text x="217.00" y="246.80" font-size="6.5" text-anchor="middle" fill="#111" font-weight="bold" >A0036</text>
<text x="212.70" y="282.20" font-size="5.2" text-anchor="middle" fill="#222" stroke="#222" stroke-width="0.1">47.6%</text>
<line x1="270.40" y1="318.53" x2="273.60" y2="318.53" stroke="#000" stroke-width="1.0" />
<text x="267.80" y="320.15" font-size="4.5" text-anchor="end" fill="#333" stroke="#333" stroke-width="0.05">0</text>
<line x1="270.40" y1="305.51" x2="273.60" y2="305.51" stroke="#000" stroke-width="1.0" />
<text x="267.80" y="307.13" font-size="4.5" text-anchor="end" fill="#333" stroke="#333" stroke-width="0.05">50K</text>
<line x1="270.40" y1="292.50" x2="273.60" y2="292.50" stroke="#000" stroke-width="1.0" />
<text x="267.80" y="294.12" font-size="4.5" text-anchor="end" fill="#333" stroke="#333" stroke-width="0.05">100K</text>
<line x1="270.40" y1="279.48" x2="273.60" y2="279.48" stroke="#000" stroke-width="1.0" />
<text x="267.80" y="281.10" font-size="4.5" text-anchor="end" fill="#333" stroke="#333" stroke-width="0.05">150K</text>
<line x1="270.40" y1="266.47" x2="273.60" y2="266.47" stroke="#000" stroke-width="1.0" />
<text x="267.80" y="268.09" font-size="4.5" text-anchor="end" fill="#333" stroke="#333" stroke-width="0.05">200K</text>
<line x1="270.40" y1="253.45" x2="273.60" y2="253.45" stroke="#000" stroke-width="1.0" />
<text x="267.80" y="255.07" font-size="4.5" text-anchor="end" fill="#333" stroke="#333" stroke-width="0.05">250K</text>
<line x1="272.50" y1="318.80" x2="272.50" y2="251.60" stroke="#000" stroke-width="2.0" stroke-dasharray="1.0 1.3"/>
<line x1="278.04" y1="318.80" x2="278.04" y2="321.80" stroke="#000" stroke-width="1.0" />
<text x="278.04" y="328.60" font-size="4.4" text-anchor="middle" fill="#222" stroke="#222" stroke-width="0.1">0</text>
<line x1="287.58" y1="318.80" x2="287.58" y2="321.80" stroke="#000" stroke-width="1.0" />
<text x="286.68" y="328.60" font-size="4.4" text-anchor="middle" fill="#222" stroke="#222" stroke-width="0.1">10</text>
<text x="288.98" y="326.00" font-size="3.08" text-anchor="start" fill="#000" >2</text>
<line x1="304.18" y1="318.80" x2="304.18" y2="321.80" stroke="#000" stroke-width="1.0" />
<text x="303.28" y="328.60" font-size="4.4" text-anchor="middle" fill="#222" stroke="#222" stroke-width="0.1">10</text>
<text x="305.58" y="326.00" font-size="3.08" text-anchor="start" fill="#000" >3</text>
<line x1="319.83" y1="318.80" x2="319.83" y2="321.80" stroke="#000" stroke-width="1.0" />
<text x="318.93" y="328.60" font-size="4.4" text-anchor="middle" fill="#222" stroke="#222" stroke-width="0.1">10</text>
<text x="321.23" y="326.00" font-size="3.08" text-anchor="start" fill="#000" >4</text>
<line x1="334.89" y1="318.80" x2="334.89" y2="321.80" stroke="#000" stroke-width="1.0" />
<text x="333.99" y="328.60" font-size="4.4" text-anchor="middle" fill="#222" stroke="#222" stroke-width="0.1">10</text>
<text x="336.29" y="326.00" font-size="3.08" text-anchor="start" fill="#000" >5</text>
<line x1="273.60" y1="320.00" x2="340.80" y2="320.00" stroke="#000" stroke-width="2.2" stroke-dasharray="1.0 1.2"/>
<rect x="273.60" y="250.60" width="67.20" height="68.20" fill="none" stroke="#000" stroke-width="1.4" />
<text x="307.20" y="246.80" font-size="6.5" text-anchor="middle" fill="#111" font-weight="bold" >A0050</text>
<text x="304.20" y="282.20" font-size="5.2" text-anchor="middle" fill="#222" stroke="#222" stroke-width="0.1">74.4%</text>
<line x1="361.40" y1="318.53" x2="364.60" y2="318.53" stroke="#000" stroke-width="1.0" />
<text x="358.80" y="320.15" font-size="4.5" text-anchor="end" fill="#333" stroke="#333" stroke-width="0.05">0</text>
<line x1="361.40" y1="305.51" x2="364.60" y2="305.51" stroke="#000" stroke-width="1.0" />
<text x="358.80" y="307.13" font-size="4.5" text-anchor="end" fill="#333" stroke="#333" stroke-width="0.05">50K</text>
<line x1="361.40" y1="292.50" x2="364.60" y2="292.50" stroke="#000" stroke-width="1.0" />
<text x="358.80" y="294.12" font-size="4.5" text-anchor="end" fill="#333" stroke="#333" stroke-width="0.05">100K</text>
<line x1="361.40" y1="279.48" x2="364.60" y2="279.48" stroke="#000" stroke-width="1.0" />
<text x="358.80" y="281.10" font-size="4.5" text-anchor="end" fill="#333" stroke="#333" stroke-width="0.05">150K</text>
<line x1="361.40" y1="266.47" x2="364.60" y2="266.47" stroke="#000" stroke-width="1.0" />
<text x="358.80" y="268.09" font-size="4.5" text-anchor="end" fill="#333" stroke="#333" stroke-width="0.05">200K</text>
<line x1="361.40" y1="253.45" x2="364.60" y2="253.45" stroke="#000" stroke-width="1.0" />
<text x="358.80" y="255.07" font-size="4.5" text-anchor="end" fill="#333" stroke="#333" stroke-width="0.05">250K</text>
<line x1="363.50" y1="318.80" x2="363.50" y2="251.60" stroke="#000" stroke-width="2.0" stroke-dasharray="1.0 1.3"/>
<line x1="369.04" y1="318.80" x2="369.04" y2="321.80" stroke="#000" stroke-width="1.0" />
<text x="369.04" y="328.60" font-size="4.4" text-anchor="middle" fill="#222" stroke="#222" stroke-width="0.1">0</text>
<line x1="378.58" y1="318.80" x2="378.58" y2="321.80" stroke="#000" stroke-width="1.0" />
<text x="377.68" y="328.60" font-size="4.4" text-anchor="middle" fill="#222" stroke="#222" stroke-width="0.1">10</text>
<text x="379.98" y="326.00" font-size="3.08" text-anchor="start" fill="#000" >2</text>
<line x1="395.18" y1="318.80" x2="395.18" y2="321.80" stroke="#000" stroke-width="1.0" />
<text x="394.28" y="328.60" font-size="4.4" text-anchor="middle" fill="#222" stroke="#222" stroke-width="0.1">10</text>
<text x="396.58" y="326.00" font-size="3.08" text-anchor="start" fill="#000" >3</text>
<line x1="410.83" y1="318.80" x2="410.83" y2="321.80" stroke="#000" stroke-width="1.0" />
<text x="409.93" y="328.60" font-size="4.4" text-anchor="middle" fill="#222" stroke="#222" stroke-width="0.1">10</text>
<text x="412.23" y="326.00" font-size="3.08" text-anchor="start" fill="#000" >4</text>
<line x1="425.89" y1="318.80" x2="425.89" y2="321.80" stroke="#000" stroke-width="1.0" />
<text x="424.99" y="328.60" font-size="4.4" text-anchor="middle" fill="#222" stroke="#222" stroke-width="0.1">10</text>
<text x="427.29" y="326.00" font-size="3.08" text-anchor="start" fill="#000" >5</text>
<line x1="364.60" y1="320.00" x2="431.80" y2="320.00" stroke="#000" stroke-width="2.2" stroke-dasharray="1.0 1.2"/>
<rect x="364.60" y="250.60" width="67.20" height="68.20" fill="none" stroke="#000" stroke-width="1.4" />
<text x="398.20" y="246.80" font-size="6.5" text-anchor="middle" fill="#111" font-weight="bold" >P0021</text>
<text x="395.20" y="282.20" font-size="5.2" text-anchor="middle" fill="#222" stroke="#222" stroke-width="0.1">65%</text>
<rect x="109.50" y="292.20" width="30.00" height="22.00" fill="none" stroke="#222" stroke-width="0.7" />
<rect x="198.90" y="290.90" width="29.30" height="23.30" fill="none" stroke="#222" stroke-width="0.9" />
<rect x="289.60" y="292.20" width="30.30" height="23.80" fill="none" stroke="#222" stroke-width="0.9" />
<rect x="379.50" y="292.40" width="29.90" height="21.80" fill="none" stroke="#222" stroke-width="0.9" />
<line x1="32.40" y1="332.30" x2="32.40" y2="169.00" stroke="#000" stroke-width="1.1" />
<path d="M30.4,170.5 L32.6,164.4 L34.8,170.5 Z" fill="#000"/>
<line x1="31.90" y1="332.30" x2="106.50" y2="332.30" stroke="#000" stroke-width="1.1" />
<path d="M105.50,329.80 L111.50,332.30 L105.50,334.80 Z" fill="#000"/>
<text x="27.60" y="212.80" font-size="10.5" text-anchor="start" fill="#c25c4c" textLength="15.6" lengthAdjust="spacingAndGlyphs" transform="rotate(-90 27.60 212.80)" stroke="#c05a4a" stroke-width="0.1">ALL</text>
<text x="27.70" y="298.80" font-size="10.3" text-anchor="start" fill="#c86454" textLength="17.9" lengthAdjust="spacingAndGlyphs" transform="rotate(-90 27.70 298.80)" stroke="#c05a4a" stroke-width="0.1">AML</text>
<text x="27.80" y="333.00" font-size="9.9" text-anchor="start" fill="#111" textLength="25.5" lengthAdjust="spacingAndGlyphs" transform="rotate(-90 27.80 333.00)" stroke="#111" stroke-width="0.25">SSC-H</text>
<text x="42.80" y="342.20" font-size="9.8" text-anchor="start" fill="#111" textLength="25.6" lengthAdjust="spacingAndGlyphs" stroke="#111" stroke-width="0.25">CD105</text>
<g transform="translate(9.20 370.30) scale(0.92 1)"><text x="0" y="0" font-size="12.4" font-weight="bold" fill="#000" stroke="#000" stroke-width="0.3">C</text></g>
<g><path d="M44,468 L52,461 L64,456 L86,455 L94,458 L93,466 L84,471 L48,471 Z" fill="#7080ff" opacity="0.3" filter="url(#bl2)"/><path d="M47,467 C48,464.5 51,463 55,461.8 C58,460 61,458.5 64,457.8 C70,456.8 78,456.3 86,456.3 C90.5,456.5 92.3,458.5 92,461 C91.7,464.5 89,468 84,469.5 C78,470.2 68,470 58,469.8 C52,469.5 47.5,469 47,467 Z" fill="url(#u17)" filter="url(#bl)"/></g>
<line x1="34.40" y1="476.45" x2="37.60" y2="476.45" stroke="#000" stroke-width="1.0" />
<text x="31.40" y="478.00" font-size="4.3" text-anchor="end" fill="#333" stroke="#333" stroke-width="0.05">0</text>
<line x1="34.40" y1="459.85" x2="37.60" y2="459.85" stroke="#000" stroke-width="1.0" />
<text x="31.40" y="461.40" font-size="4.3" text-anchor="end" fill="#333" stroke="#333" stroke-width="0.05">50K</text>
<line x1="34.40" y1="443.25" x2="37.60" y2="443.25" stroke="#000" stroke-width="1.0" />
<text x="31.40" y="444.79" font-size="4.3" text-anchor="end" fill="#333" stroke="#333" stroke-width="0.05">100K</text>
<line x1="34.40" y1="426.64" x2="37.60" y2="426.64" stroke="#000" stroke-width="1.0" />
<text x="31.40" y="428.19" font-size="4.3" text-anchor="end" fill="#333" stroke="#333" stroke-width="0.05">150K</text>
<line x1="34.40" y1="410.04" x2="37.60" y2="410.04" stroke="#000" stroke-width="1.0" />
<text x="31.40" y="411.59" font-size="4.3" text-anchor="end" fill="#333" stroke="#333" stroke-width="0.05">200K</text>
<line x1="34.40" y1="393.44" x2="37.60" y2="393.44" stroke="#000" stroke-width="1.0" />
<text x="31.40" y="394.98" font-size="4.3" text-anchor="end" fill="#333" stroke="#333" stroke-width="0.05">250K</text>
<line x1="36.50" y1="476.80" x2="36.50" y2="390.80" stroke="#000" stroke-width="2.0" stroke-dasharray="1.0 1.3"/>
<line x1="43.26" y1="476.80" x2="43.26" y2="479.80" stroke="#000" stroke-width="1.0" />
<text x="43.26" y="486.60" font-size="4.3" text-anchor="middle" fill="#222" stroke="#222" stroke-width="0.1">0</text>
<line x1="55.45" y1="476.80" x2="55.45" y2="479.80" stroke="#000" stroke-width="1.0" />
<text x="54.55" y="486.60" font-size="4.3" text-anchor="middle" fill="#222" stroke="#222" stroke-width="0.1">10</text>
<text x="56.85" y="484.00" font-size="3.01" text-anchor="start" fill="#000" >2</text>
<line x1="76.64" y1="476.80" x2="76.64" y2="479.80" stroke="#000" stroke-width="1.0" />
<text x="75.74" y="486.60" font-size="4.3" text-anchor="middle" fill="#222" stroke="#222" stroke-width="0.1">10</text>
<text x="78.04" y="484.00" font-size="3.01" text-anchor="start" fill="#000" >3</text>
<line x1="96.63" y1="476.80" x2="96.63" y2="479.80" stroke="#000" stroke-width="1.0" />
<text x="95.73" y="486.60" font-size="4.3" text-anchor="middle" fill="#222" stroke="#222" stroke-width="0.1">10</text>
<text x="98.03" y="484.00" font-size="3.01" text-anchor="start" fill="#000" >4</text>
<line x1="115.85" y1="476.80" x2="115.85" y2="479.80" stroke="#000" stroke-width="1.0" />
<text x="114.95" y="486.60" font-size="4.3" text-anchor="middle" fill="#222" stroke="#222" stroke-width="0.1">10</text>
<text x="117.25" y="484.00" font-size="3.01" text-anchor="start" fill="#000" >5</text>
<line x1="37.60" y1="478.00" x2="123.40" y2="478.00" stroke="#000" stroke-width="2.2" stroke-dasharray="1.0 1.2"/>
<rect x="37.60" y="389.80" width="85.80" height="87.00" fill="none" stroke="#000" stroke-width="1.4" />
<text x="80.50" y="384.80" font-size="7.0" text-anchor="middle" fill="#111" font-weight="bold" textLength="46.2" lengthAdjust="spacingAndGlyphs" >A0032 (AML)</text>
<rect x="41.20" y="442.70" width="13.20" height="30.70" fill="none" stroke="#3a88d4" stroke-width="1.3" />
<rect x="58.40" y="443.00" width="38.90" height="29.10" fill="none" stroke="#cc2c2c" stroke-width="1.3" />
<line x1="12.60" y1="453.00" x2="12.60" y2="433.30" stroke="#000" stroke-width="1.1" />
<path d="M10.10,434.30 L12.60,428.30 L15.10,434.30 Z" fill="#000"/>
<text x="16.10" y="482.00" font-size="10.2" text-anchor="start" fill="#111" textLength="25.1" lengthAdjust="spacingAndGlyphs" transform="rotate(-90 16.10 482.00)" stroke="#111" stroke-width="0.25">SSC-H</text>
<text x="26.50" y="497.70" font-size="9.9" text-anchor="start" fill="#111" textLength="25.8" lengthAdjust="spacingAndGlyphs" stroke="#111" stroke-width="0.25">CD105</text>
<line x1="61.00" y1="495.50" x2="114.50" y2="495.50" stroke="#000" stroke-width="1.1" />
<path d="M113.50,493.00 L119.50,495.50 L113.50,498.00 Z" fill="#000"/>
<g transform="translate(9.80 540.30) scale(0.92 1)"><text x="0" y="0" font-size="12.4" font-weight="bold" fill="#000" stroke="#000" stroke-width="0.3">F</text></g>
<g><path d="M80.98,634.11 L80.82,635.03 L80.24,635.94 L79.26,636.84 L77.91,637.68 L76.22,638.47 L74.22,639.16 L71.98,639.76 L69.53,640.23 L66.96,640.58 L64.30,640.79 L61.64,640.86 L59.04,640.78 L56.56,640.56 L54.27,640.21 L52.21,639.72 L50.44,639.12 L49.01,638.42 L47.95,637.64 L47.28,636.78 L47.02,635.89 L47.18,634.97 L47.76,634.06 L48.74,633.16 L50.09,632.32 L51.78,631.53 L53.78,630.84 L56.02,630.24 L58.47,629.77 L61.04,629.42 L63.70,629.21 L66.36,629.14 L68.96,629.22 L71.44,629.44 L73.73,629.79 L75.79,630.28 L77.56,630.88 L78.99,631.58 L80.05,632.36 L80.72,633.22 Z" fill="#7080ff" opacity="0.3" filter="url(#bl2)"/><path d="M48.5,637 C49.5,635 53,634.5 57,633.5 C59,631.5 63,630.2 68,630 C74,629.8 79,630.5 80,633 C80.8,635.5 79.5,638 76,639 C70,639.6 62,639.6 55,639 C51,638.7 48.5,638.3 48.5,637 Z" fill="url(#u18)" filter="url(#bl)"/></g>
<line x1="34.40" y1="644.95" x2="37.60" y2="644.95" stroke="#000" stroke-width="1.0" />
<text x="31.40" y="646.50" font-size="4.3" text-anchor="end" fill="#333" stroke="#333" stroke-width="0.05">0</text>
<line x1="34.40" y1="628.35" x2="37.60" y2="628.35" stroke="#000" stroke-width="1.0" />
<text x="31.40" y="629.90" font-size="4.3" text-anchor="end" fill="#333" stroke="#333" stroke-width="0.05">50K</text>
<line x1="34.40" y1="611.75" x2="37.60" y2="611.75" stroke="#000" stroke-width="1.0" />
<text x="31.40" y="613.29" font-size="4.3" text-anchor="end" fill="#333" stroke="#333" stroke-width="0.05">100K</text>
<line x1="34.40" y1="595.14" x2="37.60" y2="595.14" stroke="#000" stroke-width="1.0" />
<text x="31.40" y="596.69" font-size="4.3" text-anchor="end" fill="#333" stroke="#333" stroke-width="0.05">150K</text>
<line x1="34.40" y1="578.54" x2="37.60" y2="578.54" stroke="#000" stroke-width="1.0" />
<text x="31.40" y="580.09" font-size="4.3" text-anchor="end" fill="#333" stroke="#333" stroke-width="0.05">200K</text>
<line x1="34.40" y1="561.94" x2="37.60" y2="561.94" stroke="#000" stroke-width="1.0" />
<text x="31.40" y="563.48" font-size="4.3" text-anchor="end" fill="#333" stroke="#333" stroke-width="0.05">250K</text>
<line x1="36.50" y1="645.30" x2="36.50" y2="559.30" stroke="#000" stroke-width="2.0" stroke-dasharray="1.0 1.3"/>
<line x1="43.26" y1="645.30" x2="43.26" y2="648.30" stroke="#000" stroke-width="1.0" />
<text x="43.26" y="655.10" font-size="4.3" text-anchor="middle" fill="#222" stroke="#222" stroke-width="0.1">0</text>
<line x1="55.45" y1="645.30" x2="55.45" y2="648.30" stroke="#000" stroke-width="1.0" />
<text x="54.55" y="655.10" font-size="4.3" text-anchor="middle" fill="#222" stroke="#222" stroke-width="0.1">10</text>
<text x="56.85" y="652.50" font-size="3.01" text-anchor="start" fill="#000" >2</text>
<line x1="76.64" y1="645.30" x2="76.64" y2="648.30" stroke="#000" stroke-width="1.0" />
<text x="75.74" y="655.10" font-size="4.3" text-anchor="middle" fill="#222" stroke="#222" stroke-width="0.1">10</text>
<text x="78.04" y="652.50" font-size="3.01" text-anchor="start" fill="#000" >3</text>
<line x1="96.63" y1="645.30" x2="96.63" y2="648.30" stroke="#000" stroke-width="1.0" />
<text x="95.73" y="655.10" font-size="4.3" text-anchor="middle" fill="#222" stroke="#222" stroke-width="0.1">10</text>
<text x="98.03" y="652.50" font-size="3.01" text-anchor="start" fill="#000" >4</text>
<line x1="115.85" y1="645.30" x2="115.85" y2="648.30" stroke="#000" stroke-width="1.0" />
<text x="114.95" y="655.10" font-size="4.3" text-anchor="middle" fill="#222" stroke="#222" stroke-width="0.1">10</text>
<text x="117.25" y="652.50" font-size="3.01" text-anchor="start" fill="#000" >5</text>
<line x1="37.60" y1="646.50" x2="123.40" y2="646.50" stroke="#000" stroke-width="2.2" stroke-dasharray="1.0 1.2"/>
<rect x="37.60" y="558.30" width="85.80" height="87.00" fill="none" stroke="#000" stroke-width="1.4" />
<text x="80.50" y="553.40" font-size="6.9" text-anchor="middle" fill="#111" font-weight="bold" textLength="44.4" lengthAdjust="spacingAndGlyphs" >P0028 (ALL)</text>
<rect x="41.60" y="613.00" width="12.80" height="30.00" fill="none" stroke="#3a88d4" stroke-width="1.3" />
<rect x="58.00" y="613.00" width="37.80" height="30.40" fill="none" stroke="#cc2c2c" stroke-width="1.3" />
<line x1="13.20" y1="619.40" x2="13.20" y2="598.90" stroke="#000" stroke-width="1.1" />
<path d="M10.70,599.90 L13.20,593.90 L15.70,599.90 Z" fill="#000"/>
<text x="16.00" y="649.30" font-size="10.2" text-anchor="start" fill="#111" textLength="25.9" lengthAdjust="spacingAndGlyphs" transform="rotate(-90 16.00 649.30)" stroke="#111" stroke-width="0.25">SSC-H</text>
<text x="23.50" y="666.50" font-size="10.0" text-anchor="start" fill="#111" textLength="25.7" lengthAdjust="spacingAndGlyphs" stroke="#111" stroke-width="0.25">CD105</text>
<line x1="53.10" y1="664.20" x2="102.50" y2="664.20" stroke="#000" stroke-width="1.1" />
<path d="M101.50,661.70 L107.50,664.20 L101.50,666.70 Z" fill="#000"/>
<g transform="translate(140.40 370.30) scale(0.92 1)"><text x="0" y="0" font-size="12.4" font-weight="bold" fill="#000" stroke="#000" stroke-width="0.3">D</text></g>
<text x="214.50" y="382.00" font-size="9.2" text-anchor="start" fill="#111" font-weight="bold" textLength="58.2" lengthAdjust="spacingAndGlyphs" >A0032 (AML)</text>
<rect x="188.50" y="483.37" width="7.50" height="1.13" fill="#222"/>
<line x1="206.90" y1="475.33" x2="206.90" y2="471.74" stroke="#000" stroke-width="1.0" />
<line x1="203.70" y1="471.74" x2="210.10" y2="471.74" stroke="#000" stroke-width="1.0" />
<rect x="199.70" y="475.33" width="14.40" height="9.17" fill="#d2391f"/>
<line x1="236.50" y1="476.94" x2="236.50" y2="475.24" stroke="#000" stroke-width="1.0" />
<line x1="233.30" y1="475.24" x2="239.70" y2="475.24" stroke="#000" stroke-width="1.0" />
<rect x="229.00" y="476.94" width="15.00" height="7.56" fill="#4472c4"/>
<line x1="251.25" y1="430.63" x2="251.25" y2="419.77" stroke="#000" stroke-width="1.0" />
<line x1="248.05" y1="419.77" x2="254.45" y2="419.77" stroke="#000" stroke-width="1.0" />
<rect x="244.00" y="430.63" width="14.50" height="53.87" fill="#d2391f"/>
<line x1="280.25" y1="421.19" x2="280.25" y2="412.49" stroke="#000" stroke-width="1.0" />
<line x1="277.05" y1="412.49" x2="283.45" y2="412.49" stroke="#000" stroke-width="1.0" />
<rect x="273.00" y="421.19" width="14.50" height="63.31" fill="#4472c4"/>
<line x1="294.75" y1="398.50" x2="294.75" y2="395.39" stroke="#000" stroke-width="1.0" />
<line x1="291.55" y1="395.39" x2="297.95" y2="395.39" stroke="#000" stroke-width="1.0" />
<rect x="287.50" y="398.50" width="14.50" height="86.00" fill="#d2391f"/>
<line x1="173.80" y1="388.50" x2="173.80" y2="484.50" stroke="#000" stroke-width="1.1" />
<line x1="173.30" y1="484.50" x2="313.70" y2="484.50" stroke="#000" stroke-width="1.1" />
<line x1="170.80" y1="484.50" x2="173.80" y2="484.50" stroke="#000" stroke-width="1.0" />
<text x="168.60" y="487.55" font-size="8.5" text-anchor="end" fill="#222" stroke="#222" stroke-width="0.28">0</text>
<line x1="170.80" y1="465.60" x2="173.80" y2="465.60" stroke="#000" stroke-width="1.0" />
<text x="168.60" y="468.65" font-size="8.5" text-anchor="end" fill="#222" stroke="#222" stroke-width="0.28">20</text>
<line x1="170.80" y1="446.70" x2="173.80" y2="446.70" stroke="#000" stroke-width="1.0" />
<text x="168.60" y="449.75" font-size="8.5" text-anchor="end" fill="#222" stroke="#222" stroke-width="0.28">40</text>
<line x1="170.80" y1="427.80" x2="173.80" y2="427.80" stroke="#000" stroke-width="1.0" />
<text x="168.60" y="430.85" font-size="8.5" text-anchor="end" fill="#222" stroke="#222" stroke-width="0.28">60</text>
<line x1="170.80" y1="408.90" x2="173.80" y2="408.90" stroke="#000" stroke-width="1.0" />
<text x="168.60" y="411.95" font-size="8.5" text-anchor="end" fill="#222" stroke="#222" stroke-width="0.28">80</text>
<line x1="170.80" y1="390.00" x2="173.80" y2="390.00" stroke="#000" stroke-width="1.0" />
<text x="168.60" y="393.05" font-size="8.5" text-anchor="end" fill="#222" stroke="#222" stroke-width="0.28">100</text>
<line x1="198.90" y1="484.50" x2="198.90" y2="487.50" stroke="#000" stroke-width="1.0" />
<text x="198.90" y="497.80" font-size="8.3" text-anchor="middle" fill="#222" textLength="32.0" lengthAdjust="spacingAndGlyphs" stroke="#222" stroke-width="0.28">4th week</text>
<line x1="243.50" y1="484.50" x2="243.50" y2="487.50" stroke="#000" stroke-width="1.0" />
<text x="243.50" y="497.80" font-size="8.3" text-anchor="middle" fill="#222" textLength="32.0" lengthAdjust="spacingAndGlyphs" stroke="#222" stroke-width="0.28">8th week</text>
<line x1="287.80" y1="484.50" x2="287.80" y2="487.50" stroke="#000" stroke-width="1.0" />
<text x="287.80" y="497.80" font-size="8.3" text-anchor="middle" fill="#222" textLength="36.4" lengthAdjust="spacingAndGlyphs" stroke="#222" stroke-width="0.28">12th week</text>
<rect x="178.60" y="396.30" width="9.40" height="4.70" fill="#4472c4"/>
<text x="191.10" y="400.90" font-size="8.0" text-anchor="start" fill="#222" stroke="#222" stroke-width="0.28">CD105 -</text>
<rect x="178.60" y="407.90" width="9.40" height="4.70" fill="#d2391f"/>
<text x="191.10" y="413.30" font-size="8.0" text-anchor="start" fill="#222" stroke="#222" stroke-width="0.28">CD105 +</text>
<text x="147.50" y="455.55" font-size="8.8" text-anchor="start" fill="#222" textLength="37.5" lengthAdjust="spacingAndGlyphs" transform="rotate(-90 147.50 455.55)" stroke="#222" stroke-width="0.28">% hCD45</text>
<line x1="237.80" y1="415.60" x2="252.50" y2="415.60" stroke="#000" stroke-width="1.0" />
<line x1="237.80" y1="413.80" x2="237.80" y2="417.40" stroke="#000" stroke-width="1.1" />
<line x1="252.50" y1="413.80" x2="252.50" y2="417.40" stroke="#000" stroke-width="1.1" />
<circle cx="245.00" cy="411.90" r="1.1" fill="#111"/>
<g transform="translate(140.20 540.30) scale(0.92 1)"><text x="0" y="0" font-size="12.4" font-weight="bold" fill="#000" stroke="#000" stroke-width="0.3">G</text></g>
<text x="215.70" y="551.10" font-size="9.2" text-anchor="start" fill="#111" font-weight="bold" textLength="56.3" lengthAdjust="spacingAndGlyphs" >P0028 (ALL)</text>
<rect x="201.50" y="651.98" width="8.00" height="1.22" fill="#222"/>
<rect x="276.50" y="652.64" width="8.50" height="0.56" fill="#333"/>
<line x1="251.15" y1="570.57" x2="251.15" y2="568.88" stroke="#000" stroke-width="1.0" />
<line x1="247.95" y1="568.88" x2="254.35" y2="568.88" stroke="#000" stroke-width="1.0" />
<rect x="245.00" y="570.57" width="12.30" height="82.63" fill="#d2391f"/>
<line x1="296.00" y1="571.79" x2="296.00" y2="570.38" stroke="#000" stroke-width="1.0" />
<line x1="292.80" y1="570.38" x2="299.20" y2="570.38" stroke="#000" stroke-width="1.0" />
<rect x="290.00" y="571.79" width="12.00" height="81.41" fill="#d2391f"/>
<line x1="173.80" y1="557.80" x2="173.80" y2="653.20" stroke="#000" stroke-width="1.1" />
<line x1="173.30" y1="653.20" x2="313.50" y2="653.20" stroke="#000" stroke-width="1.1" />
<line x1="170.80" y1="653.20" x2="173.80" y2="653.20" stroke="#000" stroke-width="1.0" />
<text x="168.60" y="656.25" font-size="8.5" text-anchor="end" fill="#222" stroke="#222" stroke-width="0.28">0</text>
<line x1="170.80" y1="634.42" x2="173.80" y2="634.42" stroke="#000" stroke-width="1.0" />
<text x="168.60" y="637.47" font-size="8.5" text-anchor="end" fill="#222" stroke="#222" stroke-width="0.28">20</text>
<line x1="170.80" y1="615.64" x2="173.80" y2="615.64" stroke="#000" stroke-width="1.0" />
<text x="168.60" y="618.69" font-size="8.5" text-anchor="end" fill="#222" stroke="#222" stroke-width="0.28">40</text>
<line x1="170.80" y1="596.86" x2="173.80" y2="596.86" stroke="#000" stroke-width="1.0" />
<text x="168.60" y="599.91" font-size="8.5" text-anchor="end" fill="#222" stroke="#222" stroke-width="0.28">60</text>
<line x1="170.80" y1="578.08" x2="173.80" y2="578.08" stroke="#000" stroke-width="1.0" />
<text x="168.60" y="581.13" font-size="8.5" text-anchor="end" fill="#222" stroke="#222" stroke-width="0.28">80</text>
<line x1="170.80" y1="559.30" x2="173.80" y2="559.30" stroke="#000" stroke-width="1.0" />
<text x="168.60" y="562.35" font-size="8.5" text-anchor="end" fill="#222" stroke="#222" stroke-width="0.28">100</text>
<line x1="198.90" y1="653.20" x2="198.90" y2="656.20" stroke="#000" stroke-width="1.0" />
<text x="198.90" y="666.50" font-size="8.3" text-anchor="middle" fill="#222" textLength="32.0" lengthAdjust="spacingAndGlyphs" stroke="#222" stroke-width="0.28">4th week</text>
<line x1="243.80" y1="653.20" x2="243.80" y2="656.20" stroke="#000" stroke-width="1.0" />
<text x="243.80" y="666.50" font-size="8.3" text-anchor="middle" fill="#222" textLength="32.0" lengthAdjust="spacingAndGlyphs" stroke="#222" stroke-width="0.28">8th week</text>
<line x1="288.50" y1="653.20" x2="288.50" y2="656.20" stroke="#000" stroke-width="1.0" />
<text x="288.50" y="666.50" font-size="8.3" text-anchor="middle" fill="#222" textLength="36.4" lengthAdjust="spacingAndGlyphs" stroke="#222" stroke-width="0.28">12th week</text>
<rect x="178.60" y="566.50" width="9.40" height="4.70" fill="#4472c4"/>
<text x="191.10" y="571.10" font-size="8.0" text-anchor="start" fill="#222" stroke="#222" stroke-width="0.28">CD105 -</text>
<rect x="178.60" y="578.10" width="9.40" height="4.70" fill="#d2391f"/>
<text x="191.10" y="583.50" font-size="8.0" text-anchor="start" fill="#222" stroke="#222" stroke-width="0.28">CD105 +</text>
<text x="147.50" y="624.55" font-size="8.8" text-anchor="start" fill="#222" textLength="37.5" lengthAdjust="spacingAndGlyphs" transform="rotate(-90 147.50 624.55)" stroke="#222" stroke-width="0.28">% hCD45</text>
<line x1="237.00" y1="564.90" x2="251.00" y2="564.90" stroke="#000" stroke-width="1.0" />
<line x1="237.00" y1="563.10" x2="237.00" y2="566.70" stroke="#000" stroke-width="1.1" />
<line x1="251.00" y1="563.10" x2="251.00" y2="566.70" stroke="#000" stroke-width="1.1" />
<line x1="282.40" y1="564.90" x2="296.50" y2="564.90" stroke="#000" stroke-width="1.0" />
<line x1="282.40" y1="563.10" x2="282.40" y2="566.70" stroke="#000" stroke-width="1.1" />
<line x1="296.50" y1="563.10" x2="296.50" y2="566.70" stroke="#000" stroke-width="1.1" />
<circle cx="238.30" cy="560.80" r="1.1" fill="#111"/>
<circle cx="242.10" cy="560.80" r="1.1" fill="#111"/>
<circle cx="245.90" cy="560.80" r="1.1" fill="#111"/>
<circle cx="249.70" cy="560.80" r="1.1" fill="#111"/>
<circle cx="283.70" cy="560.80" r="1.1" fill="#111"/>
<circle cx="287.50" cy="560.80" r="1.1" fill="#111"/>
<circle cx="291.30" cy="560.80" r="1.1" fill="#111"/>
<circle cx="295.10" cy="560.80" r="1.1" fill="#111"/>
<g transform="translate(330.50 370.30) scale(0.92 1)"><text x="0" y="0" font-size="12.4" font-weight="bold" fill="#000" stroke="#000" stroke-width="0.3">E</text></g>
<path d="M363.80,400.00 L420.94,400.00 L420.94,428.24 L426.80,428.24 L426.80,456.56 L428.26,456.56 L428.26,484.80" fill="none" stroke="#b33a25" stroke-width="1.25"/>
<path d="M363.80,400.00 L451.70,400.00 L451.70,428.24 L479.54,428.24 L479.54,456.56 L481.00,456.56 L481.00,484.80" fill="none" stroke="#3f58a8" stroke-width="1.25"/>
<line x1="407.75" y1="398.20" x2="407.75" y2="400.60" stroke="#2a3a78" stroke-width="0.9" />
<line x1="363.80" y1="391.00" x2="363.80" y2="484.80" stroke="#000" stroke-width="1.2" />
<line x1="363.30" y1="484.80" x2="495.65" y2="484.80" stroke="#000" stroke-width="1.2" />
<line x1="360.80" y1="484.80" x2="363.80" y2="484.80" stroke="#000" stroke-width="1.0" />
<text x="358.80" y="487.80" font-size="8.2" text-anchor="end" fill="#222" stroke="#222" stroke-width="0.28">0</text>
<line x1="360.80" y1="442.40" x2="363.80" y2="442.40" stroke="#000" stroke-width="1.0" />
<text x="358.80" y="445.40" font-size="8.2" text-anchor="end" fill="#222" stroke="#222" stroke-width="0.28">50</text>
<line x1="360.80" y1="400.00" x2="363.80" y2="400.00" stroke="#000" stroke-width="1.0" />
<text x="358.80" y="403.00" font-size="8.2" text-anchor="end" fill="#222" stroke="#222" stroke-width="0.28">100</text>
<line x1="363.80" y1="484.80" x2="363.80" y2="487.80" stroke="#000" stroke-width="1.0" />
<text x="363.80" y="498.30" font-size="8.2" text-anchor="middle" fill="#222" stroke="#222" stroke-width="0.28">60</text>
<line x1="393.10" y1="484.80" x2="393.10" y2="487.80" stroke="#000" stroke-width="1.0" />
<text x="393.10" y="498.30" font-size="8.2" text-anchor="middle" fill="#222" stroke="#222" stroke-width="0.28">80</text>
<line x1="422.40" y1="484.80" x2="422.40" y2="487.80" stroke="#000" stroke-width="1.0" />
<text x="422.40" y="498.30" font-size="8.2" text-anchor="middle" fill="#222" stroke="#222" stroke-width="0.28">100</text>
<line x1="451.70" y1="484.80" x2="451.70" y2="487.80" stroke="#000" stroke-width="1.0" />
<text x="451.70" y="498.30" font-size="8.2" text-anchor="middle" fill="#222" stroke="#222" stroke-width="0.28">120</text>
<line x1="481.00" y1="484.80" x2="481.00" y2="487.80" stroke="#000" stroke-width="1.0" />
<text x="481.00" y="498.30" font-size="8.2" text-anchor="middle" fill="#222" stroke="#222" stroke-width="0.28">140</text>
<line x1="495.65" y1="484.80" x2="495.65" y2="487.80" stroke="#000" stroke-width="1.0" />
<text x="380.70" y="511.30" font-size="9.6" text-anchor="start" fill="#222" textLength="98.5" lengthAdjust="spacingAndGlyphs" stroke="#222" stroke-width="0.28">Days after transplantation</text>
<text x="338.20" y="462.50" font-size="9.8" text-anchor="start" fill="#222" textLength="49" lengthAdjust="spacingAndGlyphs" transform="rotate(-90 338.20 462.50)" stroke="#222" stroke-width="0.28">Survival (%)</text>
<line x1="374.50" y1="381.00" x2="383.80" y2="381.00" stroke="#b04028" stroke-width="1.0" />
<path d="M378.05,381.40 L379.15,379.30 L380.25,381.40 Z" fill="#b04028"/>
<text x="386.10" y="383.85" font-size="7.8" text-anchor="start" fill="#222" textLength="28.6" lengthAdjust="spacingAndGlyphs" stroke="#222" stroke-width="0.28">CD105+</text>
<line x1="374.50" y1="393.00" x2="383.80" y2="393.00" stroke="#3a5db8" stroke-width="1.0" />
<path d="M378.05,393.40 L379.15,391.30 L380.25,393.40 Z" fill="#3a5db8"/>
<text x="386.10" y="395.85" font-size="7.8" text-anchor="start" fill="#222" textLength="28.6" lengthAdjust="spacingAndGlyphs" stroke="#222" stroke-width="0.28">CD105-</text>
<path d="M418.70,379.80 L421.20,379.80 L421.20,392.30 L418.70,392.30" fill="none" stroke="#222" stroke-width="1.1"/>
<circle cx="426.20" cy="386.50" r="0.95" fill="#222"/>
<text x="430.80" y="388.80" font-size="7.4" text-anchor="start" fill="#222" textLength="32.3" lengthAdjust="spacingAndGlyphs" stroke="#222" stroke-width="0.28">p=0,0246</text>
<g transform="translate(330.50 540.30) scale(0.92 1)"><text x="0" y="0" font-size="12.4" font-weight="bold" fill="#000" stroke="#000" stroke-width="0.3">H</text></g>
<path d="M363.80,572.50 L412.15,572.50 L412.15,588.68 L426.80,588.68 L426.80,604.86 L437.05,604.86 L437.05,621.04 L442.91,621.04 L442.91,653.40" fill="none" stroke="#b33a25" stroke-width="1.25"/>
<path d="M363.80,572.50 L495.65,572.50" fill="none" stroke="#3f58a8" stroke-width="1.25"/>
<line x1="407.75" y1="570.70" x2="407.75" y2="573.10" stroke="#2a3a78" stroke-width="0.9" />
<line x1="426.80" y1="570.70" x2="426.80" y2="573.10" stroke="#2a3a78" stroke-width="0.9" />
<line x1="437.05" y1="570.70" x2="437.05" y2="573.10" stroke="#2a3a78" stroke-width="0.9" />
<line x1="442.91" y1="570.70" x2="442.91" y2="573.10" stroke="#2a3a78" stroke-width="0.9" />
<line x1="466.35" y1="570.70" x2="466.35" y2="573.10" stroke="#2a3a78" stroke-width="0.9" />
<line x1="495.65" y1="570.70" x2="495.65" y2="573.10" stroke="#2a3a78" stroke-width="0.9" />
<line x1="363.80" y1="563.50" x2="363.80" y2="653.40" stroke="#000" stroke-width="1.2" />
<line x1="363.30" y1="653.40" x2="495.65" y2="653.40" stroke="#000" stroke-width="1.2" />
<line x1="360.80" y1="653.40" x2="363.80" y2="653.40" stroke="#000" stroke-width="1.0" />
<text x="358.80" y="656.40" font-size="8.2" text-anchor="end" fill="#222" stroke="#222" stroke-width="0.28">0</text>
<line x1="360.80" y1="612.95" x2="363.80" y2="612.95" stroke="#000" stroke-width="1.0" />
<text x="358.80" y="615.95" font-size="8.2" text-anchor="end" fill="#222" stroke="#222" stroke-width="0.28">50</text>
<line x1="360.80" y1="572.50" x2="363.80" y2="572.50" stroke="#000" stroke-width="1.0" />
<text x="358.80" y="575.50" font-size="8.2" text-anchor="end" fill="#222" stroke="#222" stroke-width="0.28">100</text>
<line x1="363.80" y1="653.40" x2="363.80" y2="656.40" stroke="#000" stroke-width="1.0" />
<text x="363.80" y="666.90" font-size="8.2" text-anchor="middle" fill="#222" stroke="#222" stroke-width="0.28">60</text>
<line x1="393.10" y1="653.40" x2="393.10" y2="656.40" stroke="#000" stroke-width="1.0" />
<text x="393.10" y="666.90" font-size="8.2" text-anchor="middle" fill="#222" stroke="#222" stroke-width="0.28">80</text>
<line x1="422.40" y1="653.40" x2="422.40" y2="656.40" stroke="#000" stroke-width="1.0" />
<text x="422.40" y="666.90" font-size="8.2" text-anchor="middle" fill="#222" stroke="#222" stroke-width="0.28">100</text>
<line x1="451.70" y1="653.40" x2="451.70" y2="656.40" stroke="#000" stroke-width="1.0" />
<text x="451.70" y="666.90" font-size="8.2" text-anchor="middle" fill="#222" stroke="#222" stroke-width="0.28">120</text>
<line x1="481.00" y1="653.40" x2="481.00" y2="656.40" stroke="#000" stroke-width="1.0" />
<text x="481.00" y="666.90" font-size="8.2" text-anchor="middle" fill="#222" stroke="#222" stroke-width="0.28">140</text>
<line x1="495.65" y1="653.40" x2="495.65" y2="656.40" stroke="#000" stroke-width="1.0" />
<text x="380.70" y="679.90" font-size="9.6" text-anchor="start" fill="#222" textLength="98.5" lengthAdjust="spacingAndGlyphs" stroke="#222" stroke-width="0.28">Days after transplantation</text>
<text x="338.20" y="633.05" font-size="9.8" text-anchor="start" fill="#222" textLength="49" lengthAdjust="spacingAndGlyphs" transform="rotate(-90 338.20 633.05)" stroke="#222" stroke-width="0.28">Survival (%)</text>
<line x1="372.40" y1="553.90" x2="381.90" y2="553.90" stroke="#b04028" stroke-width="1.0" />
<path d="M376.05,554.30 L377.15,552.20 L378.25,554.30 Z" fill="#b04028"/>
<text x="385.10" y="556.75" font-size="7.8" text-anchor="start" fill="#222" textLength="28.6" lengthAdjust="spacingAndGlyphs" stroke="#222" stroke-width="0.28">CD105+</text>
<line x1="372.40" y1="564.80" x2="381.90" y2="564.80" stroke="#3a5db8" stroke-width="1.0" />
<path d="M376.05,565.20 L377.15,563.10 L378.25,565.20 Z" fill="#3a5db8"/>
<text x="385.10" y="567.65" font-size="7.8" text-anchor="start" fill="#222" textLength="28.6" lengthAdjust="spacingAndGlyphs" stroke="#222" stroke-width="0.28">CD105-</text>
<path d="M417.50,553.20 L420.00,553.20 L420.00,564.50 L417.50,564.50" fill="none" stroke="#222" stroke-width="1.1"/>
<circle cx="424.90" cy="559.40" r="0.95" fill="#222"/>
<circle cx="428.00" cy="559.40" r="0.95" fill="#222"/>
<text x="433.80" y="560.40" font-size="7.4" text-anchor="start" fill="#222" textLength="31.7" lengthAdjust="spacingAndGlyphs" stroke="#222" stroke-width="0.28">p=0,0024</text></g><rect x="0.75" y="0.5" width="518.5" height="689" fill="none" stroke="#000" stroke-width="1.5"/></svg></body></html>
